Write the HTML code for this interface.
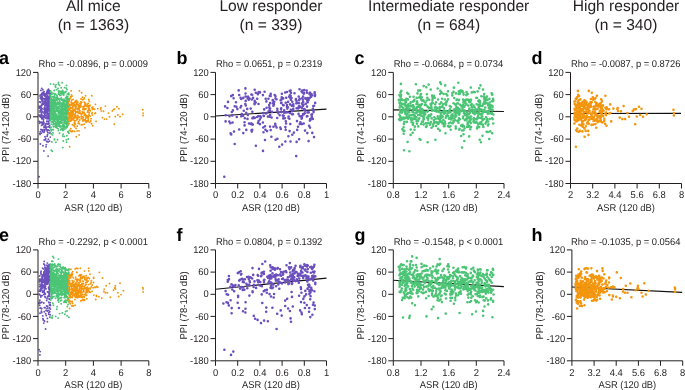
<!DOCTYPE html>
<html><head><meta charset="utf-8"><style>
html,body{margin:0;padding:0;background:#fff;overflow:hidden}
svg{display:block;will-change:transform}
text{font-family:"Liberation Sans",sans-serif;fill:#231f20;text-rendering:geometricPrecision}
.tt{font-size:15.6px;text-anchor:middle}
.rh{font-size:9.4px}
.yl{font-size:9.5px;text-anchor:middle}
.yt{font-size:9.4px;text-anchor:end}
.xt{font-size:9.4px;text-anchor:middle}
.pl{font-size:18px;font-weight:bold;fill:#000}
</style></head><body>
<svg width="685" height="390" viewBox="0 0 685 390">
<defs><filter id="bl" x="-5%" y="-5%" width="110%" height="110%"><feGaussianBlur stdDeviation="0.35"/></filter></defs>
<text x="93.4" y="11.1" class="tt">All mice</text>
<text x="93.4" y="30.0" class="tt">(n = 1363)</text>
<text x="271.0" y="11.1" class="tt">Low responder</text>
<text x="271.0" y="30.0" class="tt">(n = 339)</text>
<text x="448.7" y="11.1" class="tt">Intermediate responder</text>
<text x="448.7" y="30.0" class="tt">(n = 684)</text>
<text x="626.0" y="11.1" class="tt">High responder</text>
<text x="626.0" y="30.0" class="tt">(n = 340)</text>
<text x="-0.9" y="63.8" class="pl">a</text>
<text transform="translate(38.5,67.0) scale(1,1.05)" class="rh">Rho = -0.0896, p = 0.0009</text>
<text transform="translate(9.0,128.0) rotate(-90) scale(1,1.05)" class="yl">PPI (74-120 dB)</text>
<path d="M47.2 131.1h0M49.6 112.5h0M48.6 106.8h0M43.0 102.5h0M43.9 95.1h0M49.4 92.7h0M39.3 121.4h0M49.0 104.8h0M48.8 124.1h0M45.7 110.9h0M44.0 127.5h0M43.7 117.4h0M43.4 92.0h0M45.5 96.2h0M46.1 127.5h0M46.6 110.2h0M50.4 94.9h0M48.7 118.7h0M47.2 118.8h0M50.4 92.3h0M42.9 89.7h0M42.2 99.7h0M47.1 116.5h0M40.3 98.2h0M40.1 115.4h0M46.2 112.1h0M45.7 108.8h0M49.8 127.6h0M47.3 97.5h0M46.2 103.0h0M46.0 115.3h0M43.3 94.2h0M39.5 108.0h0M42.6 111.7h0M47.9 93.2h0M42.7 118.3h0M44.7 105.0h0M39.2 106.4h0M49.1 109.9h0M42.1 96.7h0M43.5 124.1h0M49.5 112.5h0M46.1 129.0h0M49.2 98.4h0M47.4 96.1h0M48.3 126.8h0M41.1 107.5h0M46.4 98.4h0M46.1 100.2h0M49.4 116.4h0M44.6 98.8h0M47.0 112.3h0M40.6 102.3h0M44.9 130.1h0M44.2 140.0h0M42.0 98.4h0M48.9 101.9h0M44.8 126.6h0M50.3 137.1h0M46.9 92.0h0M47.1 101.9h0M47.4 141.5h0M47.7 108.9h0M42.0 96.8h0M45.4 123.9h0M43.2 98.8h0M45.0 111.9h0M41.2 99.0h0M50.2 106.1h0M42.9 100.9h0M47.7 114.3h0M43.9 113.0h0M49.4 99.9h0M47.6 101.7h0M41.7 96.5h0M49.2 110.8h0M50.0 116.8h0M49.7 125.7h0M46.7 127.1h0M42.0 108.9h0M42.6 118.2h0M49.9 95.1h0M46.6 112.8h0M42.4 124.1h0M49.5 98.0h0M47.4 109.7h0M46.7 141.5h0M44.8 116.7h0M45.1 100.4h0M43.2 117.0h0M40.1 122.5h0M49.4 133.1h0M45.7 138.7h0M46.5 115.7h0M44.2 126.3h0M48.4 96.5h0M39.8 123.2h0M44.7 116.3h0M40.0 96.1h0M41.6 122.3h0M50.2 110.7h0M47.5 110.3h0M45.3 102.1h0M46.3 93.7h0M49.4 106.6h0M44.4 113.0h0M46.9 105.1h0M47.8 132.6h0M44.5 116.6h0M46.2 112.0h0M48.5 98.9h0M49.7 94.1h0M42.0 115.0h0M49.9 96.7h0M39.3 115.2h0M48.4 103.1h0M48.9 99.6h0M41.8 112.7h0M45.2 105.8h0M48.9 114.0h0M39.6 101.9h0M47.3 95.3h0M48.7 91.6h0M46.2 109.2h0M48.2 103.1h0M43.0 92.7h0M42.7 97.9h0M44.6 111.2h0M42.4 123.5h0M44.4 131.1h0M50.0 114.4h0M46.8 129.8h0M44.4 107.8h0M43.6 116.4h0M50.1 132.9h0M45.5 125.5h0M50.3 105.8h0M46.2 108.3h0M46.3 97.2h0M49.6 100.0h0M48.3 108.4h0M46.8 97.7h0M45.3 104.4h0M49.5 116.3h0M45.1 103.2h0M49.8 120.1h0M40.7 109.1h0M45.3 101.8h0M46.2 102.7h0M50.1 95.3h0M43.3 116.1h0M48.9 92.5h0M47.7 104.4h0M48.1 103.2h0M47.3 113.0h0M50.2 112.1h0M44.3 113.5h0M45.0 117.5h0M42.7 117.4h0M40.4 144.0h0M42.9 103.4h0M49.8 120.6h0M49.1 113.3h0M41.5 115.8h0M47.0 107.2h0M45.8 113.1h0M47.0 108.6h0M47.6 111.3h0M44.0 132.2h0M50.2 108.9h0M45.7 118.0h0M47.3 91.2h0M47.3 124.0h0M42.5 94.5h0M40.6 106.8h0M45.1 100.0h0M48.5 116.0h0M48.9 96.6h0M48.2 129.9h0M41.5 133.1h0M49.8 98.0h0M48.8 90.6h0M49.5 101.6h0M46.3 98.4h0M49.8 92.8h0M40.3 131.6h0M40.0 134.4h0M39.7 121.6h0M43.4 104.0h0M43.3 123.0h0M42.5 99.5h0M46.7 92.5h0M40.2 95.1h0M46.9 106.9h0M42.2 98.5h0M47.7 106.0h0M39.7 116.2h0M44.0 116.0h0M50.0 94.1h0M46.4 105.1h0M48.9 105.9h0M47.5 114.3h0M47.1 117.9h0M42.6 129.9h0M46.8 112.4h0M40.2 110.4h0M48.8 98.2h0M50.1 118.9h0M49.3 103.8h0M40.4 106.2h0M44.4 101.4h0M44.1 91.7h0M41.5 97.9h0M47.3 90.9h0M48.8 117.9h0M44.1 109.4h0M49.3 99.0h0M48.8 103.6h0M41.7 104.1h0M48.5 124.1h0M49.5 99.4h0M42.7 124.6h0M46.8 102.8h0M47.4 90.5h0M47.1 136.3h0M41.2 116.2h0M47.6 105.3h0M47.3 104.4h0M49.0 123.5h0M48.8 115.8h0M44.2 129.8h0M48.1 101.1h0M49.4 90.6h0M49.6 111.7h0M42.2 123.5h0M39.9 133.4h0M47.5 98.1h0M42.9 104.3h0M46.7 118.2h0M50.0 117.8h0M44.8 103.0h0M43.4 121.2h0M45.6 99.2h0M47.5 105.8h0M41.3 114.1h0M44.8 108.5h0M41.8 105.5h0M47.6 134.7h0M49.1 93.0h0M44.8 95.9h0M44.7 107.7h0M46.4 115.5h0M42.9 117.9h0M43.3 93.5h0M44.3 98.7h0M45.6 127.5h0M41.0 129.5h0M48.4 106.5h0M46.8 123.5h0M43.9 122.5h0M40.9 90.4h0M48.5 89.3h0M41.7 93.5h0M41.8 100.9h0M41.7 88.4h0M41.0 95.0h0M49.7 98.0h0M43.6 92.4h0M44.0 115.7h0M49.1 109.1h0M47.2 96.8h0M42.5 131.6h0M45.4 95.0h0M49.5 102.3h0M44.8 109.7h0M48.0 99.7h0M41.2 106.0h0M48.2 121.1h0M48.6 122.2h0M49.0 114.2h0M47.7 110.6h0M44.7 107.2h0M40.7 117.0h0M46.2 99.6h0M48.4 139.3h0M42.6 94.7h0M43.5 119.5h0M46.4 115.6h0M48.4 107.8h0M49.6 141.1h0M41.7 118.3h0M42.5 123.5h0M48.8 108.2h0M47.4 93.0h0M48.1 103.2h0M50.4 102.9h0M50.0 114.8h0M49.2 130.6h0M48.6 116.4h0M45.0 136.8h0M47.4 99.8h0M42.5 130.4h0M48.5 106.0h0M48.4 100.1h0M48.1 108.3h0M45.5 98.4h0M44.8 110.8h0M45.2 126.8h0M40.0 112.0h0M49.2 109.9h0M46.5 118.4h0M44.9 93.9h0M46.5 105.2h0M48.1 141.9h0M44.8 115.0h0M49.1 90.1h0M49.8 92.8h0M44.9 96.0h0M41.8 129.9h0M48.5 107.6h0M50.4 95.9h0M42.0 118.9h0M48.0 99.0h0M49.0 93.8h0M49.8 119.0h0M41.6 125.4h0M41.1 97.8h0M50.4 93.2h0M41.5 110.8h0M42.4 108.6h0M46.8 121.3h0M45.5 139.8h0M48.4 113.9h0M39.1 176.8h0M43.9 150.9h0M48.1 156.1h0M43.0 145.7h0M46.0 146.8h0M46.3 144.6h0" stroke="#6a4fbd" stroke-width="1.90" stroke-linecap="round" fill="none" filter="url(#bl)"/>
<path d="M66.1 101.0h0M50.2 100.3h0M64.7 104.0h0M62.4 128.9h0M50.4 105.3h0M51.2 124.1h0M63.7 120.1h0M62.5 104.8h0M55.5 114.2h0M66.3 101.9h0M53.6 84.3h0M57.6 102.3h0M51.9 142.0h0M61.9 120.9h0M51.5 118.1h0M53.1 122.7h0M64.3 116.8h0M59.0 123.0h0M62.2 118.2h0M63.7 113.2h0M61.1 122.0h0M53.4 126.7h0M63.0 126.0h0M52.0 105.9h0M54.7 110.3h0M58.0 99.5h0M51.9 99.3h0M51.8 114.7h0M62.0 103.5h0M63.9 126.9h0M56.6 89.6h0M56.9 97.6h0M53.6 113.3h0M59.5 123.8h0M60.6 106.7h0M67.8 131.7h0M50.7 119.6h0M67.3 102.6h0M69.0 110.1h0M56.1 116.4h0M63.5 100.4h0M65.5 122.5h0M62.0 107.8h0M55.0 116.4h0M61.5 120.3h0M66.6 105.8h0M51.8 121.9h0M58.7 92.0h0M50.5 117.4h0M66.0 91.4h0M64.6 123.1h0M50.8 104.2h0M63.9 124.2h0M62.8 147.6h0M52.1 109.1h0M59.5 103.4h0M62.8 125.1h0M55.9 97.8h0M59.1 119.8h0M68.7 109.5h0M61.7 106.7h0M59.1 104.3h0M51.1 130.9h0M52.0 93.7h0M66.1 104.7h0M63.9 115.6h0M65.8 122.3h0M60.6 129.7h0M60.5 126.0h0M59.6 104.9h0M63.7 114.7h0M55.8 123.5h0M59.0 116.8h0M58.5 94.0h0M62.2 114.6h0M53.7 117.4h0M50.5 95.9h0M51.5 105.8h0M53.1 110.4h0M66.2 117.7h0M63.3 128.2h0M64.0 123.9h0M58.0 116.3h0M51.7 113.4h0M58.4 107.0h0M66.3 104.8h0M59.2 108.4h0M61.6 108.5h0M56.6 122.1h0M52.5 134.9h0M61.5 116.7h0M58.7 121.5h0M56.1 118.2h0M54.5 114.0h0M62.9 124.7h0M55.6 123.3h0M60.5 112.0h0M54.5 109.6h0M64.1 118.2h0M56.6 105.4h0M58.6 113.4h0M67.7 122.2h0M63.4 110.5h0M63.7 92.1h0M56.0 118.4h0M65.9 98.0h0M56.8 95.6h0M68.9 94.4h0M67.0 120.1h0M62.2 91.3h0M65.7 109.6h0M59.9 113.7h0M63.7 113.5h0M52.1 104.2h0M68.9 110.3h0M65.0 112.9h0M52.4 96.7h0M54.2 118.9h0M60.5 122.5h0M64.3 102.1h0M52.5 103.1h0M68.3 98.8h0M56.1 122.8h0M69.1 98.9h0M64.1 105.6h0M58.8 92.8h0M56.4 124.8h0M51.6 108.5h0M51.5 114.0h0M61.6 128.6h0M64.5 118.9h0M67.2 98.4h0M56.4 116.1h0M67.9 118.9h0M55.2 101.3h0M67.9 99.9h0M67.5 100.0h0M52.6 119.7h0M66.3 111.6h0M63.1 99.5h0M63.1 118.2h0M65.9 119.2h0M59.8 101.7h0M59.2 94.0h0M56.5 123.7h0M66.4 139.8h0M67.1 127.0h0M52.7 122.2h0M64.5 112.4h0M54.8 104.1h0M53.1 112.5h0M53.4 118.7h0M60.5 109.2h0M54.9 121.6h0M54.2 111.4h0M51.7 118.0h0M55.7 87.2h0M64.5 101.8h0M50.5 120.2h0M58.7 122.0h0M61.1 115.8h0M50.9 129.2h0M55.1 119.0h0M67.2 119.1h0M69.0 101.1h0M66.1 115.7h0M52.9 119.7h0M64.3 125.8h0M58.1 124.0h0M52.9 111.7h0M58.7 113.3h0M67.6 98.3h0M66.6 117.9h0M57.0 99.1h0M51.1 108.1h0M67.1 111.0h0M68.9 133.2h0M59.3 125.2h0M53.9 102.7h0M59.9 95.4h0M62.9 108.6h0M58.7 102.4h0M56.2 115.4h0M54.3 115.0h0M55.2 118.3h0M50.9 100.1h0M54.4 107.1h0M68.2 113.5h0M50.3 114.6h0M63.6 104.7h0M64.8 107.3h0M57.2 120.2h0M60.9 93.1h0M53.8 108.1h0M62.4 110.8h0M63.2 94.6h0M63.7 99.5h0M58.9 111.9h0M68.5 105.0h0M66.4 122.8h0M60.5 118.0h0M62.6 136.0h0M54.8 97.4h0M68.0 132.0h0M61.9 103.3h0M67.0 120.1h0M55.0 121.8h0M68.8 113.1h0M51.8 108.0h0M59.6 104.1h0M51.9 92.8h0M53.2 106.9h0M64.3 101.1h0M51.1 117.6h0M56.8 103.0h0M53.3 109.2h0M66.1 116.1h0M51.4 112.0h0M55.9 111.6h0M66.2 108.8h0M62.7 106.5h0M63.1 116.6h0M69.0 119.1h0M50.5 102.6h0M62.3 129.8h0M63.9 117.8h0M64.0 94.1h0M63.3 141.0h0M51.2 118.6h0M51.4 103.3h0M64.5 129.2h0M61.2 87.7h0M54.5 139.7h0M50.3 95.0h0M59.7 94.1h0M51.5 100.7h0M64.0 113.4h0M56.0 106.9h0M65.2 120.9h0M51.6 101.9h0M58.9 123.4h0M51.7 114.0h0M64.6 99.8h0M60.2 123.3h0M54.0 115.0h0M68.4 109.1h0M62.6 125.8h0M55.9 98.0h0M66.2 107.1h0M56.7 127.8h0M68.0 111.4h0M55.2 119.5h0M68.8 118.2h0M51.1 110.1h0M63.7 118.8h0M55.1 100.2h0M57.6 118.7h0M61.7 100.0h0M50.8 111.4h0M53.8 101.4h0M51.8 116.9h0M63.8 116.5h0M53.8 123.7h0M59.0 104.5h0M55.8 100.5h0M54.1 90.6h0M67.8 96.6h0M59.2 108.1h0M62.0 113.3h0M63.1 106.6h0M65.5 111.2h0M54.6 94.7h0M51.3 100.4h0M58.4 120.2h0M52.9 118.6h0M50.5 95.7h0M67.5 107.5h0M61.5 113.5h0M57.4 97.7h0M52.3 115.2h0M64.2 114.0h0M59.7 116.0h0M53.0 132.7h0M68.8 101.3h0M68.1 124.3h0M67.6 117.2h0M65.6 119.2h0M59.7 102.8h0M55.2 111.7h0M62.0 110.7h0M52.6 129.6h0M61.3 111.9h0M51.1 127.3h0M50.4 107.5h0M63.3 106.8h0M56.0 111.1h0M62.9 91.1h0M64.6 105.1h0M65.8 104.3h0M61.3 109.3h0M66.0 113.1h0M62.2 100.2h0M67.7 98.7h0M67.0 125.4h0M50.8 99.2h0M54.6 105.2h0M56.9 100.2h0M54.4 105.7h0M53.0 124.7h0M66.5 123.9h0M50.5 92.4h0M53.1 108.1h0M64.2 126.7h0M53.8 107.0h0M54.5 114.9h0M68.5 131.4h0M64.3 136.4h0M58.0 128.7h0M52.3 151.2h0M54.7 111.4h0M68.8 113.7h0M64.9 107.8h0M51.2 104.2h0M63.1 134.3h0M56.7 114.3h0M63.4 120.1h0M55.2 124.6h0M52.2 117.0h0M50.4 112.3h0M55.2 113.9h0M66.3 127.1h0M66.9 116.3h0M62.7 91.3h0M64.0 122.6h0M53.3 129.7h0M56.2 107.9h0M67.1 104.3h0M68.9 105.8h0M57.9 123.4h0M64.5 99.8h0M67.8 119.6h0M69.1 123.5h0M55.2 117.7h0M62.1 112.1h0M56.9 103.0h0M58.4 104.0h0M58.3 111.2h0M54.8 100.6h0M50.4 110.0h0M64.4 101.0h0M62.9 126.5h0M65.9 128.4h0M52.6 102.3h0M54.1 126.4h0M60.9 114.3h0M67.8 112.0h0M58.5 116.3h0M53.4 116.0h0M60.9 95.4h0M68.3 139.0h0M66.4 101.1h0M67.1 89.6h0M57.3 110.7h0M54.5 111.1h0M66.5 102.8h0M64.8 92.4h0M66.1 124.1h0M56.9 109.9h0M55.0 113.0h0M54.1 104.7h0M66.5 109.1h0M67.5 103.6h0M56.5 115.6h0M66.6 110.4h0M56.8 118.4h0M58.0 118.3h0M60.3 112.5h0M53.8 112.5h0M54.6 123.9h0M54.6 94.0h0M54.5 112.4h0M59.3 126.3h0M51.7 98.7h0M64.6 119.2h0M53.0 105.3h0M58.0 111.1h0M61.8 108.1h0M52.3 109.0h0M57.3 117.3h0M60.3 110.5h0M60.0 91.2h0M66.9 135.8h0M64.7 110.2h0M52.0 106.1h0M65.7 122.6h0M60.0 126.1h0M62.6 90.4h0M52.7 115.0h0M58.5 90.9h0M63.0 105.0h0M65.0 110.1h0M65.2 105.6h0M53.7 103.9h0M65.7 97.8h0M60.4 106.1h0M62.4 109.3h0M66.1 109.0h0M57.2 95.9h0M67.5 101.8h0M66.7 122.0h0M65.2 118.0h0M56.7 107.2h0M59.6 117.8h0M52.9 115.1h0M64.2 121.5h0M66.9 113.8h0M52.7 106.2h0M63.9 99.9h0M62.9 110.8h0M50.7 90.9h0M67.4 111.8h0M58.6 84.1h0M54.7 99.8h0M50.6 105.4h0M64.7 116.5h0M55.9 142.3h0M59.3 112.6h0M53.3 108.9h0M61.1 91.8h0M57.1 126.2h0M65.2 91.9h0M62.3 113.7h0M63.4 102.9h0M54.3 139.1h0M51.1 109.4h0M66.7 114.7h0M67.8 103.3h0M61.9 109.9h0M67.5 123.6h0M63.1 100.4h0M61.1 103.2h0M57.5 104.3h0M56.3 99.7h0M58.8 98.7h0M53.8 111.2h0M57.6 126.0h0M59.2 126.3h0M50.6 95.9h0M57.0 103.0h0M54.9 109.8h0M61.7 115.7h0M65.3 110.6h0M61.3 110.6h0M62.3 114.7h0M61.3 118.7h0M54.4 90.4h0M56.7 108.4h0M65.9 117.6h0M68.0 125.4h0M53.1 119.0h0M50.3 102.9h0M68.4 102.5h0M66.3 113.3h0M61.2 110.3h0M65.4 114.3h0M60.9 123.2h0M67.2 96.5h0M54.2 106.8h0M58.0 88.5h0M62.4 119.3h0M53.7 112.4h0M63.3 101.1h0M54.5 113.6h0M63.2 126.3h0M65.1 121.5h0M57.6 109.8h0M69.0 107.1h0M61.6 112.0h0M64.1 99.8h0M50.5 99.9h0M51.9 107.3h0M63.2 110.6h0M68.0 113.7h0M61.6 104.8h0M67.4 100.7h0M51.0 110.2h0M66.9 105.9h0M66.6 114.5h0M61.6 126.6h0M57.7 122.0h0M63.1 102.4h0M54.2 105.9h0M62.4 93.9h0M62.9 110.3h0M59.8 101.3h0M54.5 96.2h0M50.2 99.9h0M53.3 117.7h0M65.7 113.0h0M53.6 109.5h0M51.3 121.9h0M54.3 105.6h0M59.4 99.5h0M60.7 116.3h0M66.6 142.3h0M66.2 114.1h0M68.5 113.2h0M66.8 113.6h0M58.1 118.8h0M52.4 106.3h0M68.2 110.7h0M53.9 93.4h0M61.4 104.2h0M54.6 104.9h0M65.4 113.4h0M53.4 126.6h0M57.5 139.8h0M53.8 120.4h0M66.3 100.3h0M61.4 111.3h0M61.6 93.4h0M55.5 102.7h0M53.0 101.6h0M66.2 108.4h0M64.3 108.6h0M63.7 103.7h0M69.1 100.7h0M60.2 118.8h0M53.0 105.4h0M61.2 87.6h0M55.0 111.9h0M59.3 113.8h0M58.3 118.6h0M60.3 127.0h0M67.5 97.7h0M65.2 110.2h0M57.4 107.6h0M65.4 92.3h0M66.3 88.2h0M64.5 120.8h0M60.0 99.2h0M67.1 104.0h0M58.9 106.5h0M51.8 105.6h0M54.7 111.2h0M62.2 93.9h0M56.7 104.1h0M57.5 107.1h0M57.2 97.0h0M53.3 100.9h0M51.6 105.8h0M50.9 107.3h0M62.5 92.8h0M55.7 105.2h0M58.2 111.9h0M67.8 120.4h0M61.5 114.7h0M65.3 122.5h0M64.3 109.7h0M68.2 108.0h0M51.2 133.7h0M56.8 110.7h0M68.1 103.7h0M58.3 109.0h0M68.1 121.5h0M53.2 96.8h0M51.1 118.6h0M67.0 124.5h0M57.3 122.9h0M59.2 111.0h0M67.8 100.0h0M53.8 97.9h0M68.5 108.6h0M57.0 124.2h0M54.3 118.2h0M54.0 120.9h0M59.4 112.9h0M58.4 130.6h0M66.8 109.7h0M50.9 103.7h0M50.8 112.6h0M52.6 105.8h0M61.1 121.3h0M64.7 127.1h0M58.6 118.0h0M61.3 98.0h0M61.9 99.5h0M50.4 116.0h0M54.2 97.5h0M69.1 114.5h0M55.8 94.3h0M68.1 105.5h0M58.9 115.9h0M53.8 102.1h0M50.2 119.5h0M53.7 121.3h0M55.6 127.0h0M57.9 108.0h0M58.0 111.5h0M60.0 111.8h0M58.5 115.5h0M50.6 94.9h0M54.6 115.6h0M68.4 119.0h0M50.6 97.1h0M63.7 95.1h0M58.6 107.1h0M63.1 130.2h0M55.8 117.6h0M56.5 104.1h0M59.4 110.7h0M67.3 94.1h0M55.8 126.1h0M51.5 103.4h0M50.7 117.9h0M66.7 96.2h0M55.5 111.7h0M52.0 99.5h0M60.9 118.1h0M66.0 126.6h0M61.0 123.3h0M52.6 117.7h0M57.2 122.3h0M54.6 97.6h0M50.4 96.0h0M68.4 107.9h0M58.2 122.4h0M52.3 112.2h0M66.8 118.5h0M68.9 94.8h0M65.4 107.4h0M54.4 105.5h0M53.3 115.4h0M59.5 133.3h0M60.7 119.5h0M66.6 123.3h0M68.5 106.8h0M67.3 109.8h0M56.0 119.8h0M60.7 115.2h0M52.1 94.0h0M59.4 121.6h0M51.2 150.2h0M51.9 113.5h0M52.1 118.7h0M55.3 115.7h0M55.4 105.0h0M63.1 93.0h0M51.3 130.7h0M51.9 111.1h0M62.1 110.5h0M62.5 111.8h0M63.2 113.0h0M63.4 114.7h0M62.3 99.8h0M60.1 116.1h0M63.8 112.3h0M51.4 110.9h0M53.6 109.7h0M63.8 112.8h0M53.3 99.8h0M59.6 111.0h0M54.5 109.0h0M57.7 111.5h0M65.7 122.1h0M62.2 120.1h0M58.0 122.6h0M54.7 108.8h0M65.1 118.8h0M62.1 122.7h0M57.9 108.3h0M66.5 105.1h0M62.9 130.5h0M68.8 93.3h0M62.3 110.6h0M67.1 112.1h0M50.6 83.9h0M58.5 82.4h0M62.1 82.8h0M56.1 84.6h0M55.2 86.1h0M59.5 85.4h0M66.5 85.4h0M64.6 87.6h0" stroke="#4cc476" stroke-width="1.90" stroke-linecap="round" fill="none" filter="url(#bl)"/>
<path d="M75.0 124.4h0M77.6 101.9h0M74.2 120.7h0M82.7 116.9h0M86.0 108.7h0M79.4 123.7h0M79.8 106.0h0M75.2 105.6h0M81.5 114.5h0M69.6 120.6h0M85.1 115.5h0M91.6 123.8h0M85.4 103.3h0M71.6 112.0h0M75.1 117.7h0M81.8 118.6h0M77.8 108.3h0M81.7 102.2h0M82.9 121.0h0M71.6 116.7h0M84.3 124.1h0M75.5 107.5h0M73.1 111.2h0M82.4 97.2h0M80.6 113.2h0M92.4 115.1h0M86.8 117.0h0M92.8 107.2h0M75.4 124.2h0M91.9 107.8h0M88.1 110.8h0M72.6 116.2h0M71.8 119.2h0M74.7 104.7h0M82.7 99.8h0M70.1 115.8h0M77.2 108.6h0M69.8 99.1h0M86.1 116.5h0M71.0 114.3h0M83.9 120.6h0M84.4 113.4h0M70.3 113.0h0M75.8 115.4h0M88.4 117.1h0M89.6 122.4h0M87.2 121.1h0M71.4 119.8h0M88.5 108.3h0M72.7 116.2h0M72.6 118.7h0M72.5 107.5h0M83.9 108.6h0M77.9 117.8h0M88.0 116.4h0M83.3 107.9h0M69.9 109.6h0M77.0 118.4h0M79.4 110.7h0M79.8 112.6h0M84.9 105.0h0M88.0 118.0h0M75.6 106.0h0M70.1 109.1h0M91.0 118.7h0M69.0 104.3h0M75.0 105.7h0M78.5 121.7h0M88.8 99.7h0M70.6 121.1h0M77.6 119.0h0M85.2 114.5h0M79.4 107.0h0M89.4 108.7h0M95.5 113.0h0M76.1 102.5h0M84.0 109.7h0M88.2 103.4h0M91.8 95.7h0M79.9 111.0h0M74.6 131.4h0M85.3 115.4h0M84.4 119.6h0M76.0 111.7h0M77.6 111.7h0M85.9 120.5h0M69.7 121.3h0M81.2 114.2h0M68.7 113.9h0M79.0 130.9h0M89.4 106.2h0M84.0 112.2h0M77.9 112.5h0M75.0 110.2h0M76.7 119.9h0M68.8 112.8h0M90.0 105.8h0M68.9 104.0h0M84.9 109.3h0M89.0 114.2h0M70.8 118.7h0M71.2 102.3h0M70.4 108.3h0M72.0 115.6h0M76.1 128.4h0M73.4 119.0h0M74.8 126.8h0M72.1 102.9h0M79.7 111.1h0M73.7 118.0h0M71.3 114.5h0M85.5 95.7h0M79.6 103.7h0M90.9 121.0h0M79.0 113.3h0M88.4 120.5h0M73.7 125.5h0M74.0 111.1h0M71.5 94.9h0M71.7 100.3h0M87.9 112.1h0M84.2 115.0h0M80.0 111.0h0M74.7 104.6h0M86.1 122.3h0M77.2 126.2h0M81.0 99.0h0M88.8 110.6h0M76.1 100.4h0M75.1 110.6h0M75.4 101.3h0M78.3 116.9h0M94.6 109.3h0M76.9 100.9h0M74.7 104.6h0M86.7 115.5h0M71.7 105.4h0M79.4 117.2h0M74.4 123.3h0M77.1 108.5h0M69.3 101.2h0M69.5 105.6h0M85.6 121.0h0M73.8 105.7h0M72.8 107.1h0M70.0 116.1h0M77.1 130.9h0M73.7 104.6h0M87.0 106.4h0M92.5 109.2h0M82.7 124.6h0M78.2 123.4h0M71.0 104.4h0M81.0 106.6h0M72.2 108.5h0M69.6 114.4h0M77.5 109.5h0M74.7 116.5h0M74.5 114.8h0M81.2 118.6h0M90.4 110.7h0M77.8 115.5h0M88.5 106.0h0M80.1 107.2h0M72.5 118.7h0M70.6 97.8h0M85.3 120.2h0M68.8 108.8h0M84.8 104.9h0M95.4 104.4h0M85.0 127.7h0M80.9 105.1h0M87.4 104.1h0M80.7 102.0h0M69.9 130.2h0M78.2 117.4h0M72.2 113.2h0M89.1 115.4h0M77.8 102.4h0M83.3 117.2h0M76.5 103.1h0M72.8 108.0h0M96.1 121.4h0M71.8 120.2h0M75.6 116.0h0M82.3 111.7h0M85.9 105.5h0M94.8 113.5h0M75.4 105.4h0M72.4 124.8h0M79.2 134.9h0M72.6 115.0h0M75.4 108.9h0M71.1 115.3h0M88.3 119.2h0M78.5 109.3h0M88.7 99.4h0M79.1 113.2h0M73.8 118.0h0M85.8 118.3h0M70.7 97.0h0M73.1 112.7h0M92.7 108.5h0M80.8 103.5h0M90.0 105.3h0M82.9 119.0h0M70.5 104.7h0M75.3 105.9h0M94.3 109.3h0M78.0 104.8h0M90.2 116.1h0M79.8 112.9h0M70.9 116.6h0M76.2 106.6h0M77.7 117.3h0M74.2 109.4h0M75.4 120.8h0M82.5 113.3h0M69.0 115.3h0M75.5 113.3h0M79.7 111.4h0M91.9 113.6h0M73.7 114.1h0M92.7 125.7h0M72.4 103.7h0M68.7 117.5h0M85.1 114.1h0M72.7 118.9h0M88.2 105.6h0M68.7 119.7h0M79.2 108.7h0M73.9 103.2h0M89.4 101.4h0M76.7 103.4h0M97.8 108.6h0M87.4 120.6h0M85.0 103.4h0M73.9 103.2h0M78.5 106.2h0M72.8 106.1h0M71.2 111.8h0M81.4 116.1h0M85.8 104.9h0M76.1 102.7h0M79.7 120.0h0M71.7 105.1h0M73.6 110.4h0M74.8 105.5h0M68.9 110.1h0M74.0 103.7h0M71.1 104.2h0M75.1 105.5h0M68.6 123.5h0M83.4 106.5h0M77.2 111.9h0M83.8 120.2h0M79.3 107.1h0M87.9 121.5h0M78.9 105.7h0M69.6 98.7h0M69.4 116.3h0M85.4 105.9h0M88.9 109.3h0M70.2 107.1h0M74.6 122.6h0M75.5 107.6h0M79.5 111.3h0M88.4 107.3h0M70.2 112.2h0M76.5 104.0h0M90.1 110.4h0M88.8 107.7h0M76.2 101.9h0M71.2 110.8h0M77.1 104.8h0M87.8 110.7h0M71.5 108.1h0M69.3 116.4h0M83.0 106.7h0M74.0 102.8h0M70.2 112.8h0M84.1 106.7h0M82.9 109.2h0M74.1 120.6h0M69.8 109.3h0M74.8 102.1h0M69.7 116.0h0M81.4 124.9h0M72.4 110.6h0M76.1 117.0h0M83.9 99.0h0M75.8 112.5h0M87.5 112.2h0M81.2 116.6h0M72.8 110.2h0M70.2 116.6h0M71.6 119.2h0M89.3 112.6h0M71.0 118.5h0M68.6 101.6h0M88.2 119.9h0M92.3 112.6h0M70.4 117.5h0M85.8 121.5h0M73.1 99.4h0M70.8 128.6h0M84.3 102.1h0M100.7 109.1h0M101.0 108.0h0M101.3 110.9h0M103.5 111.3h0M102.5 117.6h0M104.5 119.1h0M106.6 119.1h0M105.4 106.1h0M108.4 113.1h0M109.5 116.8h0M112.4 110.9h0M113.5 109.4h0M114.6 109.1h0M114.2 124.2h0M115.3 116.5h0M116.9 106.8h0M117.9 115.0h0M118.9 108.7h0M120.0 116.8h0M122.8 114.2h0M142.8 109.8h0M143.1 113.1h0M143.1 115.5h0M69.7 146.8h0M70.7 131.3h0M72.8 130.9h0M71.9 131.7h0M76.2 136.8h0M71.2 90.9h0M79.4 90.9h0M81.6 92.8h0M84.4 98.0h0M72.1 96.1h0" stroke="#f3960f" stroke-width="1.90" stroke-linecap="round" fill="none" filter="url(#bl)"/>
<text transform="translate(31.3,75.50) scale(1,1.05)" class="yt">120</text>
<text transform="translate(31.3,97.72) scale(1,1.05)" class="yt">60</text>
<text transform="translate(31.3,119.94) scale(1,1.05)" class="yt">0</text>
<text transform="translate(31.3,142.16) scale(1,1.05)" class="yt">-60</text>
<text transform="translate(31.3,164.38) scale(1,1.05)" class="yt">-120</text>
<text transform="translate(31.3,186.60) scale(1,1.05)" class="yt">-180</text>
<text transform="translate(38.0,198.2) scale(1,1.05)" class="xt">0</text>
<text transform="translate(65.7,198.2) scale(1,1.05)" class="xt">2</text>
<text transform="translate(93.4,198.2) scale(1,1.05)" class="xt">4</text>
<text transform="translate(121.1,198.2) scale(1,1.05)" class="xt">6</text>
<text transform="translate(148.8,198.2) scale(1,1.05)" class="xt">8</text>
<path d="M38.0 72.4V183.5M38.0 183.5H148.8M33.0 72.4H38.0M33.0 94.6H38.0M33.0 116.8H38.0M33.0 139.1H38.0M33.0 161.3H38.0M33.0 183.5H38.0M38.0 183.5V188.5M65.7 183.5V188.5M93.4 183.5V188.5M121.1 183.5V188.5M148.8 183.5V188.5" stroke="#231f20" stroke-width="1" fill="none"/>
<text transform="translate(93.4,210.6) scale(1,1.05)" class="xt">ASR (120 dB)</text>
<text x="176.6" y="63.8" class="pl">b</text>
<text transform="translate(216.0,67.0) scale(1,1.05)" class="rh">Rho = 0.0651, p = 0.2319</text>
<text transform="translate(186.5,128.0) rotate(-90) scale(1,1.05)" class="yl">PPI (74-120 dB)</text>
<line x1="215.5" y1="116.0" x2="326.5" y2="109.1" stroke="#111" stroke-width="1.15"/>
<path d="M289.6 131.1h0M308.7 112.5h0M300.4 106.8h0M255.7 102.5h0M262.9 95.1h0M307.1 92.7h0M225.6 121.4h0M303.5 104.8h0M301.9 124.1h0M277.4 110.9h0M263.2 127.5h0M260.9 117.4h0M258.7 92.0h0M275.5 96.2h0M280.3 127.5h0M284.2 110.2h0M315.1 94.9h0M301.6 118.7h0M289.4 118.8h0M314.7 92.3h0M254.7 89.7h0M248.8 99.7h0M288.6 116.5h0M233.6 98.2h0M232.2 115.4h0M281.2 112.1h0M277.3 108.8h0M310.0 127.6h0M289.9 97.5h0M281.1 103.0h0M279.7 115.3h0M257.9 94.2h0M227.4 108.0h0M252.3 111.7h0M294.5 93.2h0M253.2 118.3h0M269.2 105.0h0M225.1 106.4h0M304.1 109.9h0M248.2 96.7h0M259.9 124.1h0M307.5 112.5h0M280.8 129.0h0M305.3 98.4h0M290.7 96.1h0M298.0 126.8h0M240.5 107.5h0M283.2 98.4h0M280.6 100.2h0M306.9 116.4h0M268.4 98.8h0M287.6 112.3h0M236.0 102.3h0M270.7 130.1h0M265.0 140.0h0M247.7 98.4h0M303.2 101.9h0M270.0 126.6h0M314.0 137.1h0M286.9 92.0h0M288.1 101.9h0M290.5 141.5h0M293.3 108.9h0M247.8 96.8h0M275.2 123.9h0M257.2 98.8h0M272.0 111.9h0M241.2 99.0h0M313.3 106.1h0M254.7 100.9h0M293.0 114.3h0M263.0 113.0h0M307.1 99.9h0M292.3 101.7h0M245.6 96.5h0M305.2 110.8h0M311.8 116.8h0M309.1 125.7h0M285.4 127.1h0M247.2 108.9h0M252.3 118.2h0M310.7 95.1h0M284.1 112.8h0M251.1 124.1h0M307.8 98.0h0M290.8 109.7h0M285.4 141.5h0M269.7 116.7h0M272.7 100.4h0M257.1 117.0h0M232.6 122.5h0M307.3 133.1h0M277.4 138.7h0M283.7 115.7h0M265.0 126.3h0M298.7 96.5h0M230.3 123.2h0M269.4 116.3h0M231.2 96.1h0M244.5 122.3h0M313.3 110.7h0M292.0 110.3h0M274.2 102.1h0M281.9 93.7h0M307.0 106.6h0M266.9 113.0h0M287.0 105.1h0M293.9 132.6h0M267.9 116.6h0M281.5 112.0h0M299.7 98.9h0M309.5 94.1h0M247.8 115.0h0M311.1 96.7h0M225.6 115.2h0M298.8 103.1h0M302.8 99.6h0M246.2 112.7h0M273.4 105.8h0M303.1 114.0h0M228.0 101.9h0M289.8 95.3h0M301.6 91.6h0M281.0 109.2h0M296.9 103.1h0M255.8 92.7h0M253.0 97.9h0M268.6 111.2h0M250.9 123.5h0M267.1 131.1h0M312.0 114.4h0M285.7 129.8h0M266.6 107.8h0M260.3 116.4h0M312.3 132.9h0M275.5 125.5h0M314.1 105.8h0M281.2 108.3h0M281.7 97.2h0M308.6 100.0h0M298.1 108.4h0M286.2 97.7h0M274.0 104.4h0M307.4 116.3h0M272.8 103.2h0M310.4 120.1h0M237.4 109.1h0M274.3 101.8h0M281.5 102.7h0M312.2 95.3h0M258.3 116.1h0M302.5 92.5h0M293.3 104.4h0M296.3 103.2h0M289.9 113.0h0M313.6 112.1h0M265.9 113.5h0M271.6 117.5h0M253.4 117.4h0M234.7 144.0h0M254.5 103.4h0M309.9 120.6h0M304.8 113.3h0M243.2 115.8h0M288.0 107.2h0M278.3 113.1h0M287.3 108.6h0M292.1 111.3h0M263.5 132.2h0M312.9 108.9h0M277.2 118.0h0M289.8 91.2h0M290.3 124.0h0M251.4 94.5h0M236.4 106.8h0M272.8 100.0h0M299.6 116.0h0M303.1 96.6h0M297.2 129.9h0M243.3 133.1h0M309.7 98.0h0M302.2 90.6h0M307.4 101.6h0M281.8 98.4h0M309.9 92.8h0M234.0 131.6h0M231.2 134.4h0M229.3 121.6h0M258.5 104.0h0M258.0 123.0h0M251.8 99.5h0M285.2 92.5h0M232.8 95.1h0M287.0 106.9h0M249.5 98.5h0M293.4 106.0h0M229.5 116.2h0M263.9 116.0h0M311.4 94.1h0M283.0 105.1h0M302.9 105.9h0M292.0 114.3h0M288.5 117.9h0M252.2 129.9h0M285.8 112.4h0M232.9 110.4h0M302.2 98.2h0M312.8 118.9h0M305.8 103.8h0M234.7 106.2h0M266.4 101.4h0M264.6 91.7h0M243.3 97.9h0M289.7 90.9h0M301.9 117.9h0M264.2 109.4h0M306.4 99.0h0M301.9 103.6h0M245.3 104.1h0M299.8 124.1h0M307.7 99.4h0M252.8 124.6h0M285.7 102.8h0M290.6 90.5h0M288.4 136.3h0M241.2 116.2h0M292.2 105.3h0M290.1 104.4h0M303.7 123.5h0M302.3 115.8h0M265.4 129.8h0M296.6 101.1h0M306.7 90.6h0M308.4 111.7h0M249.0 123.5h0M230.6 133.4h0M291.5 98.1h0M254.6 104.3h0M284.9 118.2h0M311.8 117.8h0M270.0 103.0h0M258.5 121.2h0M276.5 99.2h0M291.9 105.8h0M241.8 114.1h0M270.1 108.5h0M245.8 105.5h0M292.3 134.7h0M304.2 93.0h0M269.8 95.9h0M269.4 107.7h0M283.1 115.5h0M254.7 117.9h0M257.9 93.5h0M265.7 98.7h0M276.6 127.5h0M239.2 129.5h0M298.8 106.5h0M286.1 123.5h0M262.9 122.5h0M238.7 90.4h0M299.5 89.3h0M245.5 93.5h0M245.7 100.9h0M245.4 88.4h0M239.2 95.0h0M309.3 98.0h0M260.0 92.4h0M263.5 115.7h0M304.3 109.1h0M289.2 96.8h0M251.8 131.6h0M274.7 95.0h0M307.8 102.3h0M269.7 109.7h0M295.8 99.7h0M241.2 106.0h0M297.0 121.1h0M300.4 122.2h0M303.8 114.2h0M293.2 110.6h0M269.3 107.2h0M236.8 117.0h0M281.5 99.6h0M299.1 139.3h0M252.2 94.7h0M259.8 119.5h0M282.8 115.6h0M298.5 107.8h0M308.6 141.1h0M244.8 118.3h0M251.5 123.5h0M302.0 108.2h0M291.0 93.0h0M296.5 103.2h0M315.2 102.9h0M311.4 114.8h0M305.0 130.6h0M300.5 116.4h0M271.4 136.8h0M290.8 99.8h0M251.5 130.4h0M299.3 106.0h0M299.1 100.1h0M296.6 108.3h0M275.5 98.4h0M269.9 110.8h0M273.4 126.8h0M231.8 112.0h0M305.1 109.9h0M283.3 118.4h0M270.7 93.9h0M283.7 105.2h0M296.6 141.9h0M270.2 115.0h0M304.2 90.1h0M310.1 92.8h0M270.7 96.0h0M246.3 129.9h0M299.3 107.6h0M314.9 95.9h0M247.5 118.9h0M296.0 99.0h0M303.8 93.8h0M310.2 119.0h0M244.6 125.4h0M240.6 97.8h0M314.6 93.2h0M243.8 110.8h0M250.7 108.6h0M285.8 121.3h0M275.6 139.8h0M298.6 113.9h0M224.3 176.8h0M263.0 150.9h0M296.2 156.1h0M255.9 145.7h0M279.3 146.8h0M282.1 144.6h0" stroke="#6a4fbd" stroke-width="2.60" stroke-linecap="round" fill="none" filter="url(#bl)"/>
<text transform="translate(208.8,75.50) scale(1,1.05)" class="yt">120</text>
<text transform="translate(208.8,97.72) scale(1,1.05)" class="yt">60</text>
<text transform="translate(208.8,119.94) scale(1,1.05)" class="yt">0</text>
<text transform="translate(208.8,142.16) scale(1,1.05)" class="yt">-60</text>
<text transform="translate(208.8,164.38) scale(1,1.05)" class="yt">-120</text>
<text transform="translate(208.8,186.60) scale(1,1.05)" class="yt">-180</text>
<text transform="translate(215.5,198.2) scale(1,1.05)" class="xt">0</text>
<text transform="translate(237.7,198.2) scale(1,1.05)" class="xt">0.2</text>
<text transform="translate(259.9,198.2) scale(1,1.05)" class="xt">0.4</text>
<text transform="translate(282.1,198.2) scale(1,1.05)" class="xt">0.6</text>
<text transform="translate(304.3,198.2) scale(1,1.05)" class="xt">0.8</text>
<text transform="translate(326.5,198.2) scale(1,1.05)" class="xt">1</text>
<path d="M215.5 72.4V183.5M215.5 183.5H326.5M210.5 72.4H215.5M210.5 94.6H215.5M210.5 116.8H215.5M210.5 139.1H215.5M210.5 161.3H215.5M210.5 183.5H215.5M215.5 183.5V188.5M237.7 183.5V188.5M259.9 183.5V188.5M282.1 183.5V188.5M304.3 183.5V188.5M326.5 183.5V188.5" stroke="#231f20" stroke-width="1" fill="none"/>
<text transform="translate(271.0,210.6) scale(1,1.05)" class="xt">ASR (120 dB)</text>
<text x="354.4" y="63.8" class="pl">c</text>
<text transform="translate(393.8,67.0) scale(1,1.05)" class="rh">Rho = -0.0684, p = 0.0734</text>
<text transform="translate(364.3,128.0) rotate(-90) scale(1,1.05)" class="yl">PPI (74-120 dB)</text>
<line x1="393.3" y1="109.9" x2="503.9" y2="111.5" stroke="#111" stroke-width="1.15"/>
<path d="M478.3 101.0h0M399.0 100.3h0M471.6 104.0h0M459.6 128.9h0M400.0 105.3h0M403.9 124.1h0M466.4 120.1h0M460.2 104.8h0M425.3 114.2h0M479.3 101.9h0M415.9 84.3h0M436.0 102.3h0M407.6 142.0h0M457.4 120.9h0M405.3 118.1h0M413.2 122.7h0M469.6 116.8h0M443.1 123.0h0M459.0 118.2h0M466.3 113.2h0M453.5 122.0h0M414.8 126.7h0M462.7 126.0h0M407.7 105.9h0M421.3 110.3h0M438.0 99.5h0M407.6 99.3h0M406.9 114.7h0M458.1 103.5h0M467.1 126.9h0M430.7 89.6h0M432.5 97.6h0M415.7 113.3h0M445.2 123.8h0M450.9 106.7h0M486.7 131.7h0M401.6 119.6h0M484.1 102.6h0M492.6 110.1h0M428.4 116.4h0M465.5 100.4h0M475.5 122.5h0M458.0 107.8h0M423.0 116.4h0M455.1 120.3h0M480.9 105.8h0M406.9 121.9h0M441.1 92.0h0M400.3 117.4h0M477.6 91.4h0M470.8 123.1h0M402.0 104.2h0M467.5 124.2h0M462.0 147.6h0M408.6 109.1h0M445.5 103.4h0M461.8 125.1h0M427.3 97.8h0M443.4 119.8h0M491.1 109.5h0M456.4 106.7h0M443.2 104.3h0M403.6 130.9h0M408.1 93.7h0M478.2 104.7h0M467.2 115.6h0M476.6 122.3h0M450.7 129.7h0M450.5 126.0h0M446.0 104.9h0M466.4 114.7h0M426.9 123.5h0M442.7 116.8h0M440.1 94.0h0M459.0 114.6h0M416.4 117.4h0M400.5 95.9h0M405.4 105.8h0M413.1 110.4h0M478.8 117.7h0M464.6 128.2h0M467.9 123.9h0M437.7 116.3h0M406.6 113.4h0M439.7 107.0h0M479.4 104.8h0M443.9 108.4h0M456.0 108.5h0M431.0 122.1h0M410.6 134.9h0M455.5 116.7h0M441.6 121.5h0M428.3 118.2h0M420.2 114.0h0M462.5 124.7h0M425.7 123.3h0M450.5 112.0h0M420.4 109.6h0M468.3 118.2h0M431.1 105.4h0M441.0 113.4h0M486.1 122.2h0M464.7 110.5h0M466.5 92.1h0M427.7 118.4h0M477.1 98.0h0M432.1 95.6h0M492.4 94.4h0M482.8 120.1h0M458.8 91.3h0M476.2 109.6h0M447.4 113.7h0M466.2 113.5h0M408.4 104.2h0M492.4 110.3h0M473.0 112.9h0M409.9 96.7h0M418.8 118.9h0M450.4 122.5h0M469.2 102.1h0M410.5 103.1h0M489.5 98.8h0M428.3 122.8h0M493.1 98.9h0M468.2 105.6h0M441.6 92.8h0M429.9 124.8h0M406.1 108.5h0M405.4 114.0h0M455.8 128.6h0M470.3 118.9h0M484.0 98.4h0M430.1 116.1h0M487.1 118.9h0M423.8 101.3h0M487.4 99.9h0M485.2 100.0h0M411.0 119.7h0M479.2 111.6h0M463.2 99.5h0M463.1 118.2h0M477.1 119.2h0M446.6 101.7h0M443.7 94.0h0M430.3 123.7h0M479.7 139.8h0M483.4 127.0h0M411.5 122.2h0M470.2 112.4h0M421.8 104.1h0M413.5 112.5h0M414.7 118.7h0M450.2 109.2h0M422.2 121.6h0M418.8 111.4h0M406.2 118.0h0M426.3 87.2h0M470.4 101.8h0M400.2 120.2h0M441.4 122.0h0M453.2 115.8h0M402.3 129.2h0M423.5 119.0h0M483.9 119.1h0M493.0 101.1h0M478.1 115.7h0M412.3 119.7h0M469.3 125.8h0M438.3 124.0h0M412.4 111.7h0M441.2 113.3h0M485.6 98.3h0M480.9 117.9h0M432.6 99.1h0M403.4 108.1h0M483.3 111.0h0M492.2 133.2h0M444.2 125.2h0M417.2 102.7h0M447.3 95.4h0M462.5 108.6h0M441.3 102.4h0M428.9 115.4h0M419.3 115.0h0M423.8 118.3h0M402.3 100.1h0M419.9 107.1h0M488.7 113.5h0M399.3 114.6h0M465.6 104.7h0M471.9 107.3h0M433.9 120.2h0M452.4 93.1h0M416.8 108.1h0M459.7 110.8h0M463.6 94.6h0M466.3 99.5h0M442.3 111.9h0M490.5 105.0h0M479.8 122.8h0M450.2 118.0h0M461.1 136.0h0M421.7 97.4h0M487.8 132.0h0M457.4 103.3h0M482.7 120.1h0M423.0 121.8h0M491.8 113.1h0M406.8 108.0h0M446.0 104.1h0M407.2 92.8h0M414.1 106.9h0M469.3 101.1h0M403.6 117.6h0M431.8 103.0h0M414.2 109.2h0M478.1 116.1h0M404.9 112.0h0M427.4 111.6h0M478.7 108.8h0M461.5 106.5h0M463.2 116.6h0M492.7 119.1h0M400.4 102.6h0M459.3 129.8h0M467.4 117.8h0M467.7 94.1h0M464.3 141.0h0M404.1 118.6h0M405.0 103.3h0M470.2 129.2h0M454.0 87.7h0M420.6 139.7h0M399.4 95.0h0M446.3 94.1h0M405.6 100.7h0M467.7 113.4h0M427.8 106.9h0M473.8 120.9h0M406.0 101.9h0M442.5 123.4h0M406.3 114.0h0M471.0 99.8h0M448.9 123.3h0M418.1 115.0h0M489.8 109.1h0M461.1 125.8h0M427.4 98.0h0M478.7 107.1h0M431.5 127.8h0M487.6 111.4h0M423.8 119.5h0M492.0 118.2h0M403.3 110.1h0M466.3 118.8h0M423.3 100.2h0M435.7 118.7h0M456.5 100.0h0M402.0 111.4h0M417.1 101.4h0M406.7 116.9h0M466.9 116.5h0M416.9 123.7h0M442.9 104.5h0M426.7 100.5h0M418.2 90.6h0M486.9 96.6h0M443.8 108.1h0M457.9 113.3h0M463.3 106.6h0M475.2 111.2h0M420.7 94.7h0M404.6 100.4h0M439.9 120.2h0M412.3 118.6h0M400.1 95.7h0M485.3 107.5h0M455.5 113.5h0M434.8 97.7h0M409.4 115.2h0M469.0 114.0h0M446.3 116.0h0M412.7 132.7h0M491.8 101.3h0M488.5 124.3h0M486.1 117.2h0M475.7 119.2h0M446.1 102.8h0M424.1 111.7h0M458.0 110.7h0M410.7 129.6h0M454.5 111.9h0M403.6 127.3h0M399.7 107.5h0M464.4 106.8h0M428.0 111.1h0M462.6 91.1h0M470.9 105.1h0M476.6 104.3h0M454.4 109.3h0M477.8 113.1h0M458.7 100.2h0M486.1 98.7h0M482.9 125.4h0M401.8 99.2h0M421.1 105.2h0M432.4 100.2h0M419.7 105.7h0M412.9 124.7h0M480.5 123.9h0M400.5 92.4h0M413.4 108.1h0M468.9 126.7h0M417.1 107.0h0M420.2 114.9h0M490.2 131.4h0M469.2 136.4h0M438.1 128.7h0M409.4 151.2h0M421.2 111.4h0M491.7 113.7h0M472.1 107.8h0M403.9 104.2h0M463.5 134.3h0M431.2 114.3h0M464.9 120.1h0M423.6 124.6h0M408.9 117.0h0M400.1 112.3h0M423.6 113.9h0M479.2 127.1h0M482.3 116.3h0M461.2 91.3h0M467.7 122.6h0M414.5 129.7h0M429.1 107.9h0M483.2 104.3h0M492.2 105.8h0M437.5 123.4h0M470.5 99.8h0M486.7 119.6h0M493.3 123.5h0M423.7 117.7h0M458.3 112.1h0M432.5 103.0h0M439.7 104.0h0M439.4 111.2h0M422.1 100.6h0M400.1 110.0h0M469.6 101.0h0M462.5 126.5h0M477.1 128.4h0M410.9 102.3h0M418.3 126.4h0M452.5 114.3h0M487.0 112.0h0M440.3 116.3h0M415.0 116.0h0M452.3 95.4h0M489.2 139.0h0M480.0 101.1h0M483.1 89.6h0M434.4 110.7h0M420.6 111.1h0M480.2 102.8h0M471.8 92.4h0M478.2 124.1h0M432.6 109.9h0M422.8 113.0h0M418.6 104.7h0M480.2 109.1h0M485.3 103.6h0M430.3 115.6h0M480.6 110.4h0M431.7 118.4h0M438.0 118.3h0M449.6 112.5h0M416.9 112.5h0M421.1 123.9h0M421.0 94.0h0M420.4 112.4h0M444.6 126.3h0M406.4 98.7h0M471.0 119.2h0M412.8 105.3h0M437.6 111.1h0M457.0 108.1h0M409.6 109.0h0M434.3 117.3h0M449.2 110.5h0M448.0 91.2h0M482.5 135.8h0M471.5 110.2h0M408.1 106.1h0M476.4 122.6h0M447.9 126.1h0M460.7 90.4h0M411.5 115.0h0M440.3 90.9h0M462.9 105.0h0M472.7 110.1h0M473.6 105.6h0M416.5 103.9h0M476.3 97.8h0M449.8 106.1h0M459.7 109.3h0M478.3 109.0h0M434.0 95.9h0M485.3 101.8h0M481.3 122.0h0M473.8 118.0h0M431.5 107.2h0M445.8 117.8h0M412.6 115.1h0M468.9 121.5h0M482.3 113.8h0M411.5 106.2h0M467.4 99.9h0M462.3 110.8h0M401.3 90.9h0M485.0 111.8h0M441.0 84.1h0M421.2 99.8h0M400.9 105.4h0M471.1 116.5h0M427.6 142.3h0M444.4 112.6h0M414.5 108.9h0M453.6 91.8h0M433.2 126.2h0M473.7 91.9h0M459.5 113.7h0M465.1 102.9h0M419.6 139.1h0M403.4 109.4h0M481.2 114.7h0M486.9 103.3h0M457.2 109.9h0M485.5 123.6h0M463.5 100.4h0M453.5 103.2h0M435.2 104.3h0M429.2 99.7h0M442.1 98.7h0M417.0 111.2h0M436.1 126.0h0M443.8 126.3h0M400.9 95.9h0M432.8 103.0h0M422.6 109.8h0M456.3 115.7h0M474.2 110.6h0M454.3 110.6h0M459.2 114.7h0M454.3 118.7h0M420.0 90.4h0M431.2 108.4h0M477.5 117.6h0M488.0 125.4h0M413.3 119.0h0M399.5 102.9h0M489.6 102.5h0M479.1 113.3h0M453.6 110.3h0M474.7 114.3h0M452.3 123.2h0M483.7 96.5h0M418.9 106.8h0M437.7 88.5h0M459.9 119.3h0M416.4 112.4h0M464.4 101.1h0M420.6 113.6h0M463.9 126.3h0M473.4 121.5h0M435.7 109.8h0M492.6 107.1h0M456.0 112.0h0M468.6 99.8h0M400.2 99.9h0M407.4 107.3h0M464.0 110.6h0M487.7 113.7h0M455.7 104.8h0M484.6 100.7h0M403.1 110.2h0M482.4 105.9h0M480.9 114.5h0M455.7 126.6h0M436.2 122.0h0M463.4 102.4h0M418.9 105.9h0M459.6 93.9h0M462.3 110.3h0M447.0 101.3h0M420.4 96.2h0M398.9 99.9h0M414.6 117.7h0M476.4 113.0h0M416.1 109.5h0M404.3 121.9h0M419.2 105.6h0M444.9 99.5h0M451.5 116.3h0M480.9 142.3h0M478.6 114.1h0M490.4 113.2h0M481.6 113.6h0M438.2 118.8h0M409.9 106.3h0M489.0 110.7h0M417.5 93.4h0M455.1 104.2h0M420.8 104.9h0M474.7 113.4h0M415.0 126.6h0M435.4 139.8h0M416.7 120.4h0M479.2 100.3h0M454.8 111.3h0M455.9 93.4h0M425.4 102.7h0M412.9 101.6h0M478.9 108.4h0M469.4 108.6h0M466.3 103.7h0M493.3 100.7h0M448.9 118.8h0M413.1 105.4h0M453.8 87.6h0M422.9 111.9h0M444.3 113.8h0M439.1 118.6h0M449.3 127.0h0M485.5 97.7h0M474.0 110.2h0M434.9 107.6h0M474.8 92.3h0M479.2 88.2h0M470.3 120.8h0M448.1 99.2h0M483.2 104.0h0M442.3 106.5h0M406.9 105.6h0M421.5 111.2h0M458.6 93.9h0M431.4 104.1h0M435.6 107.1h0M433.6 97.0h0M414.3 100.9h0M405.8 105.8h0M402.3 107.3h0M460.1 92.8h0M426.3 105.2h0M438.9 111.9h0M486.9 120.4h0M455.5 114.7h0M474.1 122.5h0M469.2 109.7h0M488.8 108.0h0M403.7 133.7h0M431.9 110.7h0M488.4 103.7h0M439.6 109.0h0M488.2 121.5h0M413.6 96.8h0M403.1 118.6h0M482.8 124.5h0M434.5 122.9h0M443.9 111.0h0M487.0 100.0h0M416.7 97.9h0M490.3 108.6h0M433.1 124.2h0M419.2 118.2h0M418.0 120.9h0M444.9 112.9h0M439.9 130.6h0M481.8 109.7h0M402.4 103.7h0M401.9 112.6h0M410.8 105.8h0M453.4 121.3h0M471.1 127.1h0M441.1 118.0h0M454.2 98.0h0M457.1 99.5h0M400.1 116.0h0M419.1 97.5h0M493.4 114.5h0M426.9 94.3h0M488.1 105.5h0M442.3 115.9h0M417.0 102.1h0M399.0 119.5h0M416.5 121.3h0M426.0 127.0h0M437.2 108.0h0M437.9 111.5h0M447.8 111.8h0M440.5 115.5h0M401.0 94.9h0M421.0 115.6h0M489.7 119.0h0M400.6 97.1h0M466.3 95.1h0M440.8 107.1h0M463.6 130.2h0M427.1 117.6h0M430.6 104.1h0M444.7 110.7h0M484.2 94.1h0M426.7 126.1h0M405.2 103.4h0M401.5 117.9h0M481.3 96.2h0M425.3 111.7h0M408.0 99.5h0M452.5 118.1h0M477.6 126.6h0M452.8 123.3h0M410.7 117.7h0M434.0 122.3h0M421.0 97.6h0M399.9 96.0h0M490.1 107.9h0M439.1 122.4h0M409.3 112.2h0M481.7 118.5h0M492.1 94.8h0M474.6 107.4h0M419.8 105.5h0M414.1 115.4h0M445.5 133.3h0M451.2 119.5h0M481.0 123.3h0M490.2 106.8h0M484.3 109.8h0M428.0 119.8h0M451.4 115.2h0M408.4 94.0h0M444.9 121.6h0M404.0 150.2h0M407.3 113.5h0M408.2 118.7h0M424.2 115.7h0M424.9 105.0h0M463.4 93.0h0M404.4 130.7h0M407.3 111.1h0M458.5 110.5h0M460.1 111.8h0M463.9 113.0h0M464.9 114.7h0M459.1 99.8h0M448.2 116.1h0M467.0 112.3h0M404.8 110.9h0M416.0 109.7h0M467.0 112.8h0M414.3 99.8h0M446.1 111.0h0M420.4 109.0h0M436.4 111.5h0M476.5 122.1h0M458.9 120.1h0M437.8 122.6h0M421.6 108.8h0M473.5 118.8h0M458.6 122.7h0M437.2 108.3h0M480.1 105.1h0M462.1 130.5h0M491.6 93.3h0M459.3 110.6h0M483.2 112.1h0M400.9 83.9h0M440.3 82.4h0M458.3 82.8h0M428.6 84.6h0M423.7 86.1h0M445.2 85.4h0M480.5 85.4h0M470.8 87.6h0" stroke="#4cc476" stroke-width="2.60" stroke-linecap="round" fill="none" filter="url(#bl)"/>
<text transform="translate(386.6,75.50) scale(1,1.05)" class="yt">120</text>
<text transform="translate(386.6,97.72) scale(1,1.05)" class="yt">60</text>
<text transform="translate(386.6,119.94) scale(1,1.05)" class="yt">0</text>
<text transform="translate(386.6,142.16) scale(1,1.05)" class="yt">-60</text>
<text transform="translate(386.6,164.38) scale(1,1.05)" class="yt">-120</text>
<text transform="translate(386.6,186.60) scale(1,1.05)" class="yt">-180</text>
<text transform="translate(393.3,198.2) scale(1,1.05)" class="xt">0.8</text>
<text transform="translate(421.0,198.2) scale(1,1.05)" class="xt">1.2</text>
<text transform="translate(448.7,198.2) scale(1,1.05)" class="xt">1.6</text>
<text transform="translate(476.3,198.2) scale(1,1.05)" class="xt">2</text>
<text transform="translate(504.0,198.2) scale(1,1.05)" class="xt">2.4</text>
<path d="M393.3 72.4V183.5M393.3 183.5H504.0M388.3 72.4H393.3M388.3 94.6H393.3M388.3 116.8H393.3M388.3 139.1H393.3M388.3 161.3H393.3M388.3 183.5H393.3M393.3 183.5V188.5M421.0 183.5V188.5M448.7 183.5V188.5M476.3 183.5V188.5M504.0 183.5V188.5" stroke="#231f20" stroke-width="1" fill="none"/>
<text transform="translate(448.6,210.6) scale(1,1.05)" class="xt">ASR (120 dB)</text>
<text x="531.6" y="63.8" class="pl">d</text>
<text transform="translate(571.0,67.0) scale(1,1.05)" class="rh">Rho = -0.0087, p = 0.8726</text>
<text transform="translate(541.5,128.0) rotate(-90) scale(1,1.05)" class="yl">PPI (74-120 dB)</text>
<line x1="570.5" y1="113.5" x2="681.0" y2="113.3" stroke="#111" stroke-width="1.15"/>
<path d="M583.0 124.4h0M586.4 101.9h0M581.8 120.7h0M593.2 116.9h0M597.6 108.7h0M588.8 123.7h0M589.3 106.0h0M583.2 105.6h0M591.6 114.5h0M575.8 120.6h0M596.4 115.5h0M605.1 123.8h0M596.8 103.3h0M578.4 112.0h0M583.0 117.7h0M592.0 118.6h0M586.7 108.3h0M591.8 102.2h0M593.5 121.0h0M578.4 116.7h0M595.4 124.1h0M583.6 107.5h0M580.4 111.2h0M592.8 97.2h0M590.4 113.2h0M606.1 115.1h0M598.7 117.0h0M606.7 107.2h0M583.5 124.2h0M605.4 107.8h0M600.4 110.8h0M579.7 116.2h0M578.7 119.2h0M582.5 104.7h0M593.2 99.8h0M576.4 115.8h0M585.8 108.6h0M575.9 99.1h0M597.8 116.5h0M577.5 114.3h0M594.8 120.6h0M595.5 113.4h0M576.7 113.0h0M584.0 115.4h0M600.8 117.1h0M602.4 122.4h0M599.2 121.1h0M578.2 119.8h0M601.0 108.3h0M579.8 116.2h0M579.8 118.7h0M579.5 107.5h0M594.9 108.6h0M586.8 117.8h0M600.3 116.4h0M594.0 107.9h0M576.1 109.6h0M585.6 118.4h0M588.8 110.7h0M589.3 112.6h0M596.1 105.0h0M600.2 118.0h0M583.8 106.0h0M576.3 109.1h0M604.3 118.7h0M574.9 104.3h0M582.9 105.7h0M587.6 121.7h0M601.4 99.7h0M577.1 121.1h0M586.4 119.0h0M596.6 114.5h0M588.7 107.0h0M602.2 108.7h0M610.3 113.0h0M584.4 102.5h0M595.0 109.7h0M600.6 103.4h0M605.4 95.7h0M589.4 111.0h0M582.4 131.4h0M596.7 115.4h0M595.5 119.6h0M584.2 111.7h0M586.4 111.7h0M597.4 120.5h0M575.8 121.3h0M591.2 114.2h0M574.6 113.9h0M588.2 130.9h0M602.2 106.2h0M595.0 112.2h0M586.8 112.5h0M582.9 110.2h0M585.2 119.9h0M574.6 112.8h0M602.9 105.8h0M574.7 104.0h0M596.2 109.3h0M601.6 114.2h0M577.4 118.7h0M577.9 102.3h0M576.7 108.3h0M578.9 115.6h0M584.4 128.4h0M580.8 119.0h0M582.7 126.8h0M579.0 102.9h0M589.2 111.1h0M581.2 118.0h0M577.9 114.5h0M596.9 95.7h0M589.1 103.7h0M604.2 121.0h0M588.3 113.3h0M600.8 120.5h0M581.1 125.5h0M581.5 111.1h0M578.2 94.9h0M578.5 100.3h0M600.2 112.1h0M595.3 115.0h0M589.6 111.0h0M582.6 104.6h0M597.7 122.3h0M585.9 126.2h0M590.9 99.0h0M601.4 110.6h0M584.5 100.4h0M583.1 110.6h0M583.5 101.3h0M587.3 116.9h0M609.1 109.3h0M585.4 100.9h0M582.5 104.6h0M598.5 115.5h0M578.5 105.4h0M588.9 117.2h0M582.1 123.3h0M585.7 108.5h0M575.3 101.2h0M575.5 105.6h0M597.1 121.0h0M581.3 105.7h0M580.0 107.1h0M576.2 116.1h0M585.7 130.9h0M581.2 104.6h0M599.0 106.4h0M606.4 109.2h0M593.2 124.6h0M587.2 123.4h0M577.6 104.4h0M591.0 106.6h0M579.2 108.5h0M575.7 114.4h0M586.2 109.5h0M582.5 116.5h0M582.3 114.8h0M591.1 118.6h0M603.6 110.7h0M586.7 115.5h0M601.0 106.0h0M589.7 107.2h0M579.5 118.7h0M577.1 97.8h0M596.7 120.2h0M574.6 108.8h0M596.0 104.9h0M610.2 104.4h0M596.3 127.7h0M590.7 105.1h0M599.4 104.1h0M590.6 102.0h0M576.1 130.2h0M587.2 117.4h0M579.2 113.2h0M601.7 115.4h0M586.6 102.4h0M593.9 117.2h0M585.0 103.1h0M579.9 108.0h0M611.2 121.4h0M578.6 120.2h0M583.7 116.0h0M592.7 111.7h0M597.5 105.5h0M609.3 113.5h0M583.5 105.4h0M579.4 124.8h0M588.5 134.9h0M579.7 115.0h0M583.4 108.9h0M577.8 115.3h0M600.6 119.2h0M587.6 109.3h0M601.2 99.4h0M588.4 113.2h0M581.4 118.0h0M597.3 118.3h0M577.2 97.0h0M580.3 112.7h0M606.5 108.5h0M590.7 103.5h0M603.0 105.3h0M593.5 119.0h0M576.9 104.7h0M583.3 105.9h0M608.7 109.3h0M586.9 104.8h0M603.2 116.1h0M589.3 112.9h0M577.5 116.6h0M584.6 106.6h0M586.5 117.3h0M581.9 109.4h0M583.4 120.8h0M592.9 113.3h0M574.9 115.3h0M583.5 113.3h0M589.2 111.4h0M605.4 113.6h0M581.2 114.1h0M606.5 125.7h0M579.5 103.7h0M574.4 117.5h0M596.3 114.1h0M579.8 118.9h0M600.6 105.6h0M574.5 119.7h0M588.6 108.7h0M581.4 103.2h0M602.1 101.4h0M585.2 103.4h0M613.4 108.6h0M599.5 120.6h0M596.2 103.4h0M581.5 103.2h0M587.6 106.2h0M580.0 106.1h0M577.9 111.8h0M591.5 116.1h0M597.3 104.9h0M584.4 102.7h0M589.1 120.0h0M578.5 105.1h0M581.0 110.4h0M582.6 105.5h0M574.8 110.1h0M581.6 103.7h0M577.7 104.2h0M583.1 105.5h0M574.4 123.5h0M594.1 106.5h0M585.8 111.9h0M594.7 120.2h0M588.6 107.1h0M600.2 121.5h0M588.1 105.7h0M575.7 98.7h0M575.5 116.3h0M596.9 105.9h0M601.5 109.3h0M576.5 107.1h0M582.4 122.6h0M583.6 107.6h0M588.9 111.3h0M600.9 107.3h0M576.5 112.2h0M584.9 104.0h0M603.1 110.4h0M601.4 107.7h0M584.6 101.9h0M577.9 110.8h0M585.7 104.8h0M600.0 110.7h0M578.2 108.1h0M575.3 116.4h0M593.6 106.7h0M581.6 102.8h0M576.6 112.8h0M595.0 106.7h0M593.4 109.2h0M581.7 120.6h0M575.9 109.3h0M582.6 102.1h0M575.8 116.0h0M591.5 124.9h0M579.4 110.6h0M584.3 117.0h0M594.8 99.0h0M584.0 112.5h0M599.6 112.2h0M591.3 116.6h0M580.0 110.2h0M576.5 116.6h0M578.4 119.2h0M602.1 112.6h0M577.6 118.5h0M574.4 101.6h0M600.6 119.9h0M606.1 112.6h0M576.8 117.5h0M597.4 121.5h0M580.4 99.4h0M577.3 128.6h0M595.3 102.1h0M617.3 109.1h0M617.7 108.0h0M618.0 110.9h0M621.0 111.3h0M619.7 117.6h0M622.3 119.1h0M625.1 119.1h0M623.6 106.1h0M627.5 113.1h0M629.0 116.8h0M632.8 110.9h0M634.3 109.4h0M635.8 109.1h0M635.2 124.2h0M636.7 116.5h0M639.0 106.8h0M640.2 115.0h0M641.5 108.7h0M643.0 116.8h0M646.7 114.2h0M673.5 109.8h0M673.9 113.1h0M673.9 115.5h0M575.9 146.8h0M577.2 131.3h0M579.9 130.9h0M578.8 131.7h0M584.6 136.8h0M577.9 90.9h0M588.8 90.9h0M591.8 92.8h0M595.5 98.0h0M579.0 96.1h0" stroke="#f3960f" stroke-width="2.60" stroke-linecap="round" fill="none" filter="url(#bl)"/>
<text transform="translate(563.8,75.50) scale(1,1.05)" class="yt">120</text>
<text transform="translate(563.8,97.72) scale(1,1.05)" class="yt">60</text>
<text transform="translate(563.8,119.94) scale(1,1.05)" class="yt">0</text>
<text transform="translate(563.8,142.16) scale(1,1.05)" class="yt">-60</text>
<text transform="translate(563.8,164.38) scale(1,1.05)" class="yt">-120</text>
<text transform="translate(563.8,186.60) scale(1,1.05)" class="yt">-180</text>
<text transform="translate(570.5,198.2) scale(1,1.05)" class="xt">2</text>
<text transform="translate(592.7,198.2) scale(1,1.05)" class="xt">3.2</text>
<text transform="translate(614.9,198.2) scale(1,1.05)" class="xt">4.4</text>
<text transform="translate(637.1,198.2) scale(1,1.05)" class="xt">5.6</text>
<text transform="translate(659.3,198.2) scale(1,1.05)" class="xt">6.8</text>
<text transform="translate(681.5,198.2) scale(1,1.05)" class="xt">8</text>
<path d="M570.5 72.4V183.5M570.5 183.5H681.5M565.5 72.4H570.5M565.5 94.6H570.5M565.5 116.8H570.5M565.5 139.1H570.5M565.5 161.3H570.5M565.5 183.5H570.5M570.5 183.5V188.5M592.7 183.5V188.5M614.9 183.5V188.5M637.1 183.5V188.5M659.3 183.5V188.5M681.5 183.5V188.5" stroke="#231f20" stroke-width="1" fill="none"/>
<text transform="translate(626.0,210.6) scale(1,1.05)" class="xt">ASR (120 dB)</text>
<text x="-0.9" y="241.3" class="pl">e</text>
<text transform="translate(38.5,244.5) scale(1,1.05)" class="rh">Rho = -0.2292, p < 0.0001</text>
<text transform="translate(9.0,305.4) rotate(-90) scale(1,1.05)" class="yl">PPI (78-120 dB)</text>
<path d="M45.7 268.6h0M48.4 295.7h0M43.3 275.8h0M49.4 277.4h0M43.2 319.9h0M50.4 305.6h0M39.5 281.8h0M48.8 314.2h0M46.1 269.2h0M48.9 277.9h0M46.3 272.2h0M49.1 302.7h0M48.0 265.8h0M47.4 318.4h0M50.1 276.1h0M41.5 282.2h0M49.9 296.2h0M46.3 315.6h0M48.0 281.1h0M47.6 271.2h0M44.9 282.6h0M46.3 283.4h0M50.2 302.6h0M45.9 281.7h0M49.8 279.1h0M39.4 302.2h0M46.8 271.1h0M47.8 277.3h0M45.0 278.2h0M41.0 280.6h0M48.7 292.7h0M48.4 282.7h0M44.8 265.3h0M41.2 287.1h0M49.1 269.7h0M48.6 265.8h0M49.1 296.4h0M49.0 276.5h0M43.5 285.2h0M47.2 269.1h0M45.7 313.8h0M44.9 285.8h0M45.1 267.4h0M47.7 270.1h0M50.4 284.1h0M45.8 268.1h0M44.7 275.7h0M47.3 263.1h0M47.3 311.0h0M45.1 307.8h0M47.4 279.3h0M47.5 284.0h0M48.3 276.2h0M42.3 281.1h0M47.5 292.0h0M45.2 276.6h0M49.5 288.7h0M47.2 283.5h0M48.9 267.1h0M48.9 268.3h0M42.9 281.4h0M40.9 285.4h0M48.5 278.6h0M40.5 285.1h0M50.0 290.3h0M47.8 270.3h0M45.3 297.5h0M47.7 276.1h0M41.8 302.2h0M47.4 275.4h0M49.8 267.3h0M39.0 303.5h0M50.0 266.8h0M44.0 274.0h0M45.0 282.9h0M50.0 289.6h0M48.8 268.2h0M44.9 275.2h0M50.3 272.6h0M40.0 308.1h0M47.6 283.4h0M46.1 310.4h0M49.5 284.7h0M39.7 279.1h0M44.2 290.4h0M45.8 284.4h0M40.8 295.8h0M47.4 267.4h0M49.2 290.9h0M49.7 286.1h0M41.9 277.0h0M46.1 275.5h0M50.3 264.7h0M40.8 273.1h0M48.0 272.5h0M43.8 272.9h0M49.7 291.4h0M47.1 284.1h0M49.6 279.8h0M40.4 286.8h0M47.1 308.5h0M45.2 284.5h0M41.4 289.9h0M45.1 269.0h0M48.3 273.9h0M46.8 279.8h0M47.0 298.7h0M43.7 276.2h0M46.1 282.7h0M45.5 279.3h0M49.7 290.6h0M49.5 272.0h0M45.4 269.8h0M46.1 274.4h0M43.8 303.0h0M46.7 300.6h0M41.7 312.5h0M50.2 275.7h0M45.2 287.6h0M39.4 294.3h0M43.9 272.5h0M50.1 269.0h0M44.0 271.7h0M44.9 270.7h0M50.3 275.8h0M48.7 288.9h0M44.6 282.8h0M42.2 295.6h0M44.9 296.5h0M44.7 294.1h0M49.6 276.5h0M46.4 278.6h0M49.9 292.5h0M50.4 271.6h0M49.4 305.1h0M45.1 288.1h0M44.9 276.2h0M46.5 271.7h0M47.7 279.6h0M49.2 270.6h0M49.0 275.8h0M44.1 320.6h0M48.2 275.9h0M44.8 278.6h0M48.6 273.3h0M39.5 280.1h0M49.2 275.4h0M47.9 280.8h0M42.0 288.3h0M43.3 282.2h0M44.0 282.2h0M46.2 275.7h0M49.7 308.0h0M50.2 278.0h0M47.0 277.4h0M41.4 282.0h0M50.3 266.6h0M50.1 267.9h0M41.1 288.6h0M47.6 274.1h0M47.6 279.9h0M47.6 278.1h0M48.1 279.3h0M39.3 291.1h0M44.0 291.2h0M44.3 307.6h0M47.5 275.8h0M41.2 274.6h0M43.6 285.7h0M42.4 277.4h0M40.3 291.2h0M45.8 275.2h0M42.7 286.9h0M45.9 279.2h0M42.8 315.9h0M48.7 312.6h0M41.4 281.7h0M48.6 310.4h0M47.5 296.9h0M42.1 276.8h0M44.8 277.7h0M44.8 275.8h0M45.6 274.6h0M47.7 280.7h0M39.6 294.7h0M42.2 285.2h0M47.9 280.8h0M41.1 271.2h0M49.2 265.8h0M44.7 281.3h0M40.1 289.5h0M48.5 274.9h0M43.3 275.1h0M50.5 282.9h0M49.8 317.1h0M49.5 265.5h0M49.5 269.1h0M40.8 297.0h0M39.9 300.2h0M45.0 284.0h0M45.2 275.7h0M45.1 273.2h0M47.0 280.2h0M48.7 302.1h0M48.7 275.7h0M49.9 272.7h0M47.7 277.5h0M49.5 281.4h0M41.1 279.6h0M39.9 286.8h0M45.6 286.3h0M49.5 276.7h0M44.9 287.7h0M41.4 311.2h0M41.7 279.3h0M43.1 287.9h0M49.3 275.8h0M44.3 311.8h0M49.3 294.4h0M50.0 278.6h0M48.6 266.4h0M49.8 289.8h0M43.4 280.6h0M42.6 292.2h0M43.2 280.2h0M39.7 305.4h0M49.9 290.4h0M42.8 284.9h0M47.3 276.4h0M43.7 275.6h0M46.4 274.1h0M45.4 268.4h0M48.1 272.0h0M42.7 274.9h0M43.8 286.2h0M41.9 283.8h0M44.2 261.5h0M49.1 264.4h0M50.2 304.7h0M39.6 280.5h0M49.2 269.6h0M48.2 280.7h0M40.9 272.4h0M42.2 284.9h0M49.4 278.2h0M42.6 268.1h0M49.7 294.1h0M46.4 274.6h0M50.3 291.2h0M46.1 282.7h0M41.7 308.7h0M47.1 280.3h0M45.5 276.1h0M40.8 302.7h0M49.0 298.9h0M49.6 287.0h0M50.2 280.6h0M47.4 321.7h0M46.9 272.3h0M42.6 291.3h0M50.2 271.9h0M48.2 280.8h0M47.6 306.5h0M47.9 268.0h0M49.2 308.0h0M44.4 292.7h0M41.4 279.4h0M50.4 309.1h0M40.0 284.2h0M43.6 282.1h0M46.0 288.7h0M40.2 285.5h0M44.0 280.4h0M49.4 265.1h0M47.2 281.0h0M46.9 265.3h0M39.7 276.0h0M45.3 294.0h0M41.6 289.7h0M44.9 267.3h0M44.9 278.6h0M45.3 276.2h0M44.1 279.8h0M48.6 287.2h0M45.7 280.5h0M49.7 285.2h0M44.4 289.8h0M41.9 284.8h0M44.5 321.3h0M49.4 266.4h0M44.6 278.0h0M49.0 276.4h0M47.9 273.4h0M43.4 268.9h0M42.6 278.5h0M41.5 287.3h0M45.5 280.7h0M47.9 268.3h0M43.8 264.0h0M50.1 314.7h0M39.6 302.9h0M48.7 270.9h0M42.3 282.3h0M50.4 276.4h0M41.2 274.0h0M49.8 299.2h0M45.0 288.2h0M43.8 294.4h0M40.2 286.5h0M42.9 318.8h0M44.8 275.1h0M49.9 287.8h0M50.2 280.3h0M40.9 308.0h0M46.6 280.4h0M40.0 313.2h0M41.3 278.9h0M47.2 267.2h0M46.3 279.0h0M49.6 284.5h0M49.7 311.8h0M42.2 279.0h0M47.3 272.5h0M48.9 272.5h0M48.6 266.9h0M46.7 306.0h0M46.2 272.0h0M46.7 271.3h0M45.2 284.4h0M46.7 282.4h0M49.6 278.3h0M44.5 276.7h0M45.4 277.3h0M45.4 275.0h0M39.1 349.7h0M39.9 354.9h0M40.2 351.6h0M43.7 323.1h0M45.6 329.0h0" stroke="#6a4fbd" stroke-width="1.90" stroke-linecap="round" fill="none" filter="url(#bl)"/>
<path d="M53.1 277.1h0M61.2 272.3h0M64.4 289.8h0M60.9 290.5h0M65.8 274.3h0M56.8 309.2h0M62.4 282.7h0M58.0 277.7h0M67.4 278.8h0M51.6 279.6h0M66.5 295.5h0M50.4 269.9h0M66.2 289.1h0M51.5 284.4h0M62.9 267.3h0M51.7 271.6h0M64.6 294.3h0M53.8 284.9h0M51.2 281.8h0M66.5 292.1h0M60.5 300.7h0M66.0 277.7h0M64.9 277.5h0M51.6 277.4h0M51.6 283.4h0M63.3 282.1h0M66.0 279.2h0M53.1 289.8h0M66.8 288.4h0M50.5 284.4h0M64.4 278.0h0M61.6 281.0h0M56.8 293.6h0M56.8 287.3h0M55.4 265.5h0M58.6 291.2h0M59.0 281.1h0M52.8 285.9h0M50.4 267.8h0M59.6 313.6h0M53.3 284.3h0M51.7 290.5h0M54.4 283.0h0M52.4 272.4h0M66.4 279.0h0M55.1 293.2h0M62.0 269.2h0M50.3 281.5h0M62.2 293.4h0M68.2 284.8h0M64.1 290.1h0M64.3 289.8h0M57.5 287.7h0M58.6 283.2h0M67.1 290.1h0M54.1 296.4h0M59.1 277.8h0M63.6 289.0h0M55.9 270.4h0M58.5 277.4h0M50.7 273.7h0M62.6 282.2h0M52.8 268.3h0M54.5 283.8h0M53.9 289.7h0M63.4 281.0h0M57.1 306.8h0M69.0 289.7h0M65.0 282.8h0M67.6 289.5h0M62.7 272.4h0M54.0 274.2h0M55.7 280.3h0M56.4 285.2h0M53.5 270.4h0M58.4 288.5h0M64.9 288.5h0M59.5 275.9h0M52.8 274.8h0M63.7 267.6h0M68.4 288.1h0M58.5 299.6h0M52.4 274.0h0M63.6 272.7h0M59.8 284.4h0M65.2 270.6h0M61.1 267.7h0M66.5 291.5h0M50.4 283.7h0M62.0 295.2h0M61.0 278.3h0M64.6 278.1h0M53.8 275.1h0M60.7 294.5h0M54.6 287.9h0M64.1 297.6h0M51.4 294.5h0M52.7 292.5h0M68.0 300.4h0M63.8 286.0h0M54.4 277.0h0M55.5 275.5h0M57.8 282.3h0M54.0 286.9h0M52.4 315.8h0M68.5 280.9h0M53.6 283.3h0M64.0 284.0h0M63.4 287.0h0M63.7 289.2h0M55.3 280.9h0M53.8 290.9h0M61.3 273.9h0M69.1 300.7h0M56.9 277.6h0M53.7 293.1h0M59.2 268.9h0M53.2 272.5h0M56.1 289.0h0M63.7 288.5h0M54.2 291.1h0M58.0 318.1h0M61.9 279.9h0M52.7 261.4h0M52.4 292.7h0M68.4 274.8h0M66.4 290.7h0M66.8 283.0h0M60.5 275.1h0M59.1 277.7h0M51.8 276.1h0M54.1 282.6h0M51.9 280.0h0M59.7 281.5h0M57.8 271.2h0M52.9 293.8h0M51.7 284.4h0M60.5 294.6h0M52.4 289.0h0M50.3 286.7h0M53.9 270.7h0M65.1 267.8h0M62.2 271.4h0M59.4 293.6h0M53.9 280.0h0M58.4 292.8h0M50.3 275.3h0M55.7 269.8h0M58.6 277.1h0M51.6 271.9h0M60.6 284.6h0M57.9 300.2h0M51.0 297.7h0M52.5 281.1h0M58.8 277.3h0M67.0 274.0h0M51.0 282.8h0M60.3 282.4h0M54.9 278.8h0M56.9 272.1h0M67.5 286.5h0M61.6 293.6h0M54.9 271.2h0M58.1 278.5h0M68.8 282.8h0M66.4 297.0h0M57.6 282.2h0M59.6 298.5h0M58.2 300.6h0M52.6 282.4h0M68.5 290.1h0M53.9 275.6h0M53.8 267.5h0M51.9 280.3h0M68.0 270.3h0M67.4 291.1h0M61.7 276.7h0M59.6 294.4h0M60.6 282.1h0M56.6 284.6h0M66.9 287.5h0M60.2 277.7h0M66.2 302.5h0M62.9 283.0h0M62.6 291.4h0M62.4 282.8h0M64.5 281.1h0M65.3 288.4h0M62.7 287.4h0M55.6 291.9h0M54.6 276.0h0M53.3 286.6h0M66.2 281.3h0M58.8 295.5h0M50.2 266.9h0M61.0 292.7h0M66.3 274.8h0M67.5 289.9h0M67.9 281.0h0M66.4 286.7h0M53.0 274.2h0M59.3 282.7h0M63.2 272.6h0M61.9 277.6h0M56.3 275.4h0M50.7 264.3h0M66.9 291.9h0M64.6 272.9h0M66.4 284.7h0M56.8 295.3h0M54.3 276.5h0M65.9 287.1h0M62.1 268.5h0M62.3 313.0h0M50.7 279.1h0M51.8 277.8h0M64.4 302.0h0M66.7 280.9h0M56.2 290.6h0M66.5 272.6h0M53.1 265.2h0M60.6 283.3h0M56.2 296.0h0M59.7 281.2h0M53.4 278.9h0M56.8 275.2h0M58.3 285.1h0M60.6 294.1h0M53.5 281.9h0M61.1 291.8h0M53.6 265.0h0M68.7 292.7h0M54.2 286.8h0M51.9 280.4h0M54.7 292.3h0M60.4 287.2h0M58.0 283.5h0M62.2 288.3h0M51.9 282.2h0M57.4 270.7h0M60.1 279.1h0M68.6 298.4h0M66.8 289.5h0M60.4 276.4h0M55.2 287.1h0M51.9 279.2h0M61.7 283.9h0M60.3 278.3h0M58.5 284.1h0M63.4 285.6h0M58.4 290.2h0M64.6 281.5h0M55.0 289.6h0M55.7 266.0h0M67.3 306.5h0M60.6 285.3h0M68.2 278.9h0M51.1 280.4h0M67.6 285.0h0M51.0 280.1h0M64.0 291.1h0M60.6 291.6h0M52.1 286.4h0M55.3 270.9h0M58.6 288.2h0M60.2 286.8h0M58.8 286.6h0M50.5 273.1h0M69.0 269.9h0M56.2 290.0h0M63.5 279.3h0M67.7 284.8h0M68.6 289.0h0M53.1 275.8h0M66.9 297.1h0M59.3 275.2h0M62.1 281.8h0M54.2 289.9h0M52.4 265.7h0M60.6 275.5h0M67.2 275.1h0M57.5 295.3h0M68.2 288.5h0M63.1 288.9h0M50.4 273.7h0M67.8 273.6h0M51.9 297.3h0M53.8 280.5h0M60.3 284.2h0M67.9 276.9h0M52.3 317.9h0M55.2 292.8h0M50.8 281.3h0M51.5 289.2h0M57.7 289.2h0M60.5 282.8h0M59.3 287.1h0M50.9 277.0h0M57.7 295.9h0M58.0 264.4h0M67.8 274.5h0M55.7 274.9h0M61.7 295.4h0M58.8 302.1h0M64.6 292.5h0M61.1 285.5h0M69.0 268.9h0M61.7 271.8h0M56.0 286.3h0M57.5 271.1h0M66.2 274.2h0M56.5 281.6h0M67.6 274.8h0M57.9 279.2h0M68.0 291.9h0M52.5 290.9h0M64.7 285.9h0M58.0 273.2h0M53.9 293.0h0M60.8 297.9h0M51.0 274.7h0M53.4 305.2h0M66.0 269.5h0M59.5 286.8h0M55.9 274.8h0M52.4 264.2h0M52.7 293.4h0M54.0 290.3h0M58.3 264.9h0M50.4 282.0h0M53.5 281.7h0M57.7 280.1h0M66.7 275.9h0M66.4 273.4h0M67.8 284.9h0M53.9 283.7h0M52.1 280.4h0M66.0 282.5h0M63.0 272.2h0M54.3 279.6h0M57.7 266.4h0M67.6 293.6h0M65.4 280.2h0M67.8 270.4h0M58.9 270.9h0M53.3 277.5h0M59.8 290.9h0M51.9 286.4h0M52.0 281.4h0M51.5 277.0h0M54.4 283.1h0M52.8 293.5h0M54.5 287.6h0M62.9 279.4h0M62.4 276.3h0M50.5 292.2h0M66.2 288.6h0M65.4 300.2h0M68.0 291.1h0M53.7 257.9h0M63.6 283.8h0M60.2 286.2h0M63.1 289.5h0M67.2 296.6h0M51.4 296.6h0M65.9 285.6h0M66.2 287.8h0M61.9 270.3h0M57.1 296.8h0M59.8 279.0h0M52.4 268.0h0M63.9 302.2h0M60.0 277.0h0M60.5 297.8h0M63.2 279.5h0M51.7 266.5h0M50.9 279.6h0M52.0 277.4h0M51.4 286.1h0M65.1 282.3h0M52.2 269.8h0M56.7 283.4h0M62.1 285.1h0M54.5 277.4h0M67.3 278.3h0M67.4 300.6h0M56.9 281.3h0M60.7 289.5h0M64.7 280.3h0M68.8 276.9h0M62.9 281.2h0M58.1 270.6h0M50.8 288.5h0M61.8 287.4h0M62.2 292.8h0M62.9 283.5h0M56.1 280.7h0M66.3 287.1h0M60.9 294.3h0M56.7 282.5h0M54.2 284.8h0M50.6 274.0h0M63.2 286.7h0M55.5 270.8h0M66.1 283.2h0M55.6 298.2h0M55.3 282.8h0M64.7 297.7h0M56.7 273.0h0M68.9 273.3h0M60.3 283.4h0M67.9 281.9h0M52.1 293.1h0M50.8 300.0h0M50.4 284.4h0M66.6 287.8h0M58.6 296.2h0M63.7 283.5h0M59.5 280.0h0M68.5 280.3h0M65.2 270.9h0M58.6 275.1h0M53.1 283.7h0M56.8 280.8h0M56.9 276.4h0M56.4 291.1h0M63.3 272.2h0M65.8 277.0h0M65.6 287.1h0M53.4 286.3h0M52.9 256.4h0M62.4 276.2h0M63.7 275.8h0M64.7 269.1h0M67.2 276.7h0M55.9 279.5h0M51.2 273.3h0M56.5 290.0h0M55.7 274.9h0M51.9 293.9h0M62.6 280.1h0M59.3 277.6h0M61.5 297.7h0M66.5 269.2h0M60.5 293.6h0M66.8 276.0h0M65.3 289.7h0M59.6 279.9h0M61.4 289.4h0M58.5 263.9h0M56.9 272.4h0M63.6 268.6h0M61.0 276.2h0M56.5 275.3h0M62.1 282.3h0M59.7 284.9h0M51.9 274.3h0M63.9 282.9h0M59.0 283.8h0M67.7 298.2h0M67.1 315.8h0M51.9 274.3h0M54.6 285.1h0M62.9 280.8h0M53.4 281.7h0M65.5 294.3h0M62.5 292.0h0M68.1 292.6h0M56.2 284.0h0M62.8 286.2h0M61.0 273.0h0M62.6 293.7h0M68.1 304.4h0M56.2 275.1h0M54.0 284.7h0M65.1 285.8h0M52.6 261.4h0M60.0 269.5h0M67.6 280.3h0M66.0 276.4h0M62.8 282.7h0M50.4 270.4h0M68.7 291.6h0M58.1 288.5h0M55.1 285.2h0M51.2 265.1h0M52.4 265.8h0M50.8 284.8h0M60.2 272.3h0M56.7 283.0h0M55.1 271.1h0M65.4 287.6h0M51.4 270.8h0M57.5 282.8h0M65.1 287.2h0M65.6 311.5h0M63.2 282.5h0M59.5 287.8h0M52.7 292.4h0M57.0 266.5h0M63.6 287.6h0M64.6 301.0h0M61.2 303.8h0M67.1 310.9h0M60.3 288.4h0M66.0 272.6h0M67.2 300.2h0M52.9 282.9h0M52.5 296.6h0M68.9 317.3h0M55.2 277.5h0M58.0 279.0h0M57.6 269.5h0M66.0 270.0h0M50.3 269.7h0M58.9 287.5h0M58.3 294.1h0M51.7 289.1h0M58.0 297.9h0M66.6 269.5h0M50.9 281.0h0M54.3 279.4h0M61.2 281.3h0M59.9 266.2h0M64.2 289.4h0M56.0 270.4h0M52.1 276.9h0M56.5 282.7h0M65.7 302.3h0M57.8 273.4h0M57.0 288.3h0M64.7 288.6h0M60.7 280.8h0M52.3 278.9h0M56.7 271.2h0M67.3 291.5h0M50.6 277.6h0M64.3 281.7h0M55.4 280.7h0M64.0 277.9h0M52.8 282.3h0M62.1 272.4h0M66.3 291.4h0M51.1 292.5h0M68.3 286.1h0M51.8 268.8h0M50.4 283.7h0M65.5 290.4h0M59.3 285.5h0M50.7 277.6h0M62.1 285.0h0M59.2 279.5h0M69.1 301.7h0M68.7 272.2h0M66.6 279.8h0M59.5 290.3h0M65.4 272.1h0M63.7 279.9h0M54.7 267.2h0M64.0 294.8h0M55.2 265.9h0M57.5 281.3h0M51.4 298.2h0M52.3 272.9h0M59.1 285.0h0M65.8 294.0h0M64.9 286.4h0M52.7 297.6h0M59.9 277.2h0M55.4 282.9h0M53.5 282.7h0M56.5 268.4h0M62.6 283.3h0M67.6 291.5h0M51.7 288.2h0M55.1 281.3h0M64.0 274.4h0M59.0 287.6h0M56.9 290.9h0M65.1 276.1h0M50.4 278.5h0M68.0 285.9h0M54.7 263.9h0M66.0 295.9h0M65.7 282.9h0M65.8 301.0h0M61.4 285.9h0M62.0 278.0h0M50.9 268.9h0M57.6 293.3h0M61.5 275.6h0M54.7 273.5h0M62.6 284.7h0M60.1 264.4h0M62.4 283.5h0M66.2 293.0h0M55.9 277.2h0M61.5 300.2h0M50.9 265.0h0M65.0 275.5h0M65.3 288.3h0M62.8 278.0h0M62.8 278.8h0M60.2 266.6h0M55.7 286.6h0M65.0 296.3h0M52.2 298.3h0M60.6 285.6h0M51.8 293.9h0M63.9 285.7h0M59.1 278.5h0M61.7 287.3h0M52.9 288.6h0M57.4 270.8h0M62.2 285.3h0M57.9 279.7h0M63.5 275.2h0M51.4 291.4h0M56.3 289.7h0M51.8 261.2h0M63.8 285.5h0M57.0 291.0h0M64.0 286.4h0M64.1 289.4h0M50.7 290.4h0M61.4 286.9h0M65.1 284.7h0M67.4 285.5h0M51.5 274.5h0M51.6 295.3h0M58.0 295.5h0M64.0 276.9h0M51.9 283.6h0M69.1 274.9h0M63.3 281.1h0M50.4 291.9h0M63.9 279.2h0M57.7 291.0h0M53.0 277.6h0M62.3 272.3h0M63.3 267.1h0M61.4 283.8h0M54.4 274.2h0M53.1 277.3h0M51.0 272.1h0M52.8 303.2h0M56.4 284.8h0M55.9 278.5h0M51.2 275.1h0M65.9 291.7h0M53.2 272.6h0M51.4 269.3h0M53.6 279.6h0M57.9 283.9h0M61.5 286.4h0M51.4 278.1h0M52.6 269.1h0M50.5 265.4h0M57.1 285.8h0M69.1 294.5h0M64.7 291.6h0M66.1 275.9h0M67.4 283.4h0M53.8 277.6h0M61.9 279.0h0M57.4 278.2h0M56.4 282.4h0M64.2 293.7h0M60.3 288.4h0M61.5 282.1h0M54.7 277.1h0M67.9 289.0h0M62.1 287.2h0M61.6 270.8h0M64.2 288.5h0M67.4 283.4h0M53.0 282.9h0M54.6 288.4h0M68.6 299.6h0M62.5 288.4h0M58.4 259.1h0M51.0 317.5h0M55.7 316.4h0M64.9 314.2h0" stroke="#4cc476" stroke-width="1.90" stroke-linecap="round" fill="none" filter="url(#bl)"/>
<path d="M70.9 294.3h0M83.5 290.7h0M74.1 295.5h0M97.7 287.3h0M81.6 278.2h0M88.1 280.9h0M72.1 284.3h0M75.4 279.1h0M72.2 301.4h0M90.0 274.3h0M75.4 287.9h0M81.9 296.9h0M76.8 290.4h0M82.1 292.2h0M74.4 286.8h0M74.1 285.2h0M71.7 305.9h0M80.5 278.5h0M86.2 275.8h0M70.2 295.8h0M93.7 278.3h0M73.2 277.8h0M76.8 280.0h0M72.2 274.8h0M82.3 297.4h0M68.9 281.7h0M69.3 295.7h0M84.5 271.1h0M82.9 294.4h0M77.9 296.7h0M76.2 279.1h0M73.0 282.8h0M75.5 287.4h0M84.2 286.6h0M76.0 282.9h0M72.6 274.1h0M72.0 293.2h0M75.3 291.8h0M87.3 291.5h0M85.5 288.1h0M81.8 287.5h0M75.4 297.4h0M74.2 285.3h0M78.3 297.0h0M87.1 289.7h0M70.3 289.6h0M71.3 289.5h0M80.6 276.8h0M70.6 274.6h0M91.4 280.6h0M93.6 277.5h0M75.4 289.8h0M87.0 278.0h0M71.6 288.0h0M71.0 285.8h0M80.4 285.6h0M84.3 297.0h0M81.5 292.0h0M71.8 288.8h0M80.8 284.9h0M77.2 288.5h0M85.5 293.5h0M70.6 296.8h0M76.5 287.5h0M69.3 297.1h0M93.8 295.1h0M69.1 288.4h0M96.5 286.5h0M75.2 293.9h0M82.0 300.4h0M85.2 285.6h0M87.2 282.0h0M83.6 290.5h0M77.7 290.4h0M72.8 305.8h0M77.6 280.8h0M79.0 295.7h0M85.8 282.6h0M83.9 291.8h0M89.1 288.6h0M79.1 289.0h0M80.8 300.7h0M80.3 268.2h0M74.9 299.6h0M74.7 286.8h0M70.2 294.1h0M70.3 289.5h0M81.3 277.7h0M69.3 302.6h0M80.5 288.6h0M70.0 283.7h0M71.9 286.7h0M78.7 284.7h0M78.1 293.2h0M86.9 298.8h0M81.8 297.0h0M74.0 290.8h0M76.8 282.0h0M87.5 287.1h0M79.0 275.8h0M91.4 286.9h0M72.6 286.1h0M72.8 286.0h0M70.5 301.4h0M90.5 283.8h0M74.8 296.1h0M73.9 290.5h0M70.9 269.2h0M76.2 297.0h0M81.3 286.7h0M79.8 285.5h0M69.7 286.6h0M69.1 287.6h0M92.0 291.2h0M77.0 272.6h0M72.6 303.3h0M78.9 295.2h0M72.0 275.9h0M82.2 283.7h0M77.3 293.4h0M75.0 294.5h0M81.9 289.4h0M76.4 268.3h0M71.7 283.7h0M72.6 295.7h0M77.9 285.8h0M76.0 292.4h0M88.1 277.5h0M81.1 285.5h0M82.3 278.6h0M70.4 286.3h0M76.7 272.2h0M70.3 284.3h0M74.1 285.4h0M84.8 294.7h0M73.6 290.9h0M75.4 284.6h0M80.7 291.2h0M75.1 268.9h0M74.4 287.7h0M76.7 293.4h0M80.4 280.4h0M77.3 291.6h0M81.8 284.7h0M86.1 288.2h0M87.0 292.5h0M85.1 277.9h0M75.8 286.9h0M78.1 279.5h0M78.9 290.1h0M96.5 296.4h0M81.9 296.5h0M79.8 291.4h0M81.8 288.9h0M95.0 287.3h0M82.6 283.9h0M72.2 297.4h0M70.8 285.8h0M72.0 297.2h0M70.8 293.1h0M75.7 268.6h0M80.5 278.3h0M72.8 290.4h0M80.7 274.6h0M85.0 277.7h0M82.9 281.3h0M68.9 275.7h0M73.7 289.5h0M83.3 288.5h0M72.0 294.4h0M75.4 283.1h0M70.5 297.6h0M89.1 291.0h0M77.1 284.2h0M77.4 291.4h0M76.8 285.0h0M71.9 273.2h0M76.8 295.0h0M84.3 277.8h0M81.2 292.6h0M76.4 294.7h0M79.8 286.0h0M86.4 280.5h0M90.2 292.3h0M80.5 292.9h0M72.7 291.1h0M73.5 293.2h0M77.0 286.2h0M89.2 292.4h0M74.3 289.6h0M75.8 284.9h0M69.0 291.0h0M68.9 278.3h0M86.0 292.3h0M72.9 293.6h0M72.7 271.6h0M71.6 275.7h0M79.6 287.1h0M69.6 280.9h0M77.8 285.1h0M71.8 291.6h0M78.8 282.6h0M68.5 285.1h0M70.6 277.4h0M84.0 300.6h0M80.4 281.7h0M72.1 286.3h0M79.4 292.7h0M69.4 291.1h0M81.0 290.5h0M80.0 297.3h0M72.6 292.1h0M91.1 282.5h0M68.7 299.9h0M88.2 290.1h0M73.3 306.0h0M70.2 292.2h0M73.1 284.6h0M85.0 288.0h0M95.8 287.3h0M86.5 295.3h0M79.0 283.4h0M78.0 294.3h0M83.2 281.2h0M74.2 286.0h0M73.9 290.6h0M82.6 277.0h0M86.1 290.3h0M68.7 279.3h0M79.6 286.8h0M75.8 287.6h0M79.7 280.3h0M85.6 284.6h0M93.2 287.7h0M68.6 288.6h0M82.9 286.1h0M77.5 287.0h0M76.0 290.1h0M76.8 295.4h0M69.6 308.5h0M76.5 288.4h0M72.7 289.5h0M70.7 277.9h0M88.6 284.6h0M77.6 279.1h0M81.6 275.1h0M73.5 288.4h0M74.0 294.1h0M74.0 281.3h0M79.2 292.0h0M83.9 289.4h0M70.5 276.1h0M81.9 283.6h0M68.7 278.7h0M77.6 297.7h0M73.9 287.3h0M86.0 279.9h0M96.5 295.5h0M79.4 286.1h0M92.3 285.0h0M75.1 305.3h0M83.9 276.3h0M81.7 292.7h0M81.6 288.6h0M79.8 275.3h0M71.9 301.7h0M86.2 284.4h0M78.4 290.9h0M74.7 287.2h0M80.5 293.6h0M89.4 278.5h0M80.6 295.7h0M77.9 284.9h0M70.3 283.2h0M87.8 288.2h0M75.4 289.7h0M79.3 289.5h0M80.1 280.1h0M68.5 283.9h0M90.0 288.1h0M85.9 295.1h0M81.8 286.4h0M75.1 283.5h0M79.9 287.8h0M69.5 276.0h0M95.7 299.5h0M88.8 270.9h0M90.2 288.8h0M77.6 296.1h0M84.6 299.8h0M72.2 280.8h0M83.5 283.5h0M79.3 289.2h0M86.5 287.9h0M70.7 286.2h0M87.3 290.5h0M84.9 279.5h0M72.5 282.7h0M79.9 288.5h0M69.4 300.8h0M75.7 277.1h0M74.8 291.2h0M81.5 295.0h0M87.1 278.8h0M71.0 283.6h0M70.2 303.7h0M83.0 299.4h0M86.1 290.3h0M83.4 296.5h0M76.0 288.7h0M77.8 268.6h0M88.6 268.2h0M86.6 287.8h0M93.5 282.5h0M69.5 280.4h0M73.8 288.5h0M99.4 272.4h0M102.4 278.0h0M106.1 285.8h0M109.5 283.5h0M104.2 289.1h0M103.9 291.5h0M105.4 292.8h0M107.4 292.8h0M110.3 297.2h0M113.5 290.2h0M115.3 285.8h0M114.9 288.3h0M115.6 289.1h0M115.1 287.6h0M117.9 292.8h0M118.7 296.5h0M120.0 283.2h0M121.1 294.6h0M123.5 290.7h0M101.7 298.3h0M98.9 296.8h0M142.8 287.6h0M143.1 288.9h0M143.1 291.9h0" stroke="#f3960f" stroke-width="1.90" stroke-linecap="round" fill="none" filter="url(#bl)"/>
<text transform="translate(31.3,253.00) scale(1,1.05)" class="yt">120</text>
<text transform="translate(31.3,275.18) scale(1,1.05)" class="yt">60</text>
<text transform="translate(31.3,297.36) scale(1,1.05)" class="yt">0</text>
<text transform="translate(31.3,319.54) scale(1,1.05)" class="yt">-60</text>
<text transform="translate(31.3,341.72) scale(1,1.05)" class="yt">-120</text>
<text transform="translate(31.3,363.90) scale(1,1.05)" class="yt">-180</text>
<text transform="translate(38.0,375.5) scale(1,1.05)" class="xt">0</text>
<text transform="translate(65.7,375.5) scale(1,1.05)" class="xt">2</text>
<text transform="translate(93.4,375.5) scale(1,1.05)" class="xt">4</text>
<text transform="translate(121.1,375.5) scale(1,1.05)" class="xt">6</text>
<text transform="translate(148.8,375.5) scale(1,1.05)" class="xt">8</text>
<path d="M38.0 249.9V360.8M38.0 360.8H148.8M33.0 249.9H38.0M33.0 272.1H38.0M33.0 294.3H38.0M33.0 316.4H38.0M33.0 338.6H38.0M33.0 360.8H38.0M38.0 360.8V365.8M65.7 360.8V365.8M93.4 360.8V365.8M121.1 360.8V365.8M148.8 360.8V365.8" stroke="#231f20" stroke-width="1" fill="none"/>
<text transform="translate(93.4,387.9) scale(1,1.05)" class="xt">ASR (120 dB)</text>
<text x="176.6" y="241.3" class="pl">f</text>
<text transform="translate(216.0,244.5) scale(1,1.05)" class="rh">Rho = 0.0804, p = 0.1392</text>
<text transform="translate(186.5,305.4) rotate(-90) scale(1,1.05)" class="yl">PPI (78-120 dB)</text>
<line x1="215.5" y1="289.3" x2="326.5" y2="278.1" stroke="#111" stroke-width="1.15"/>
<path d="M277.2 268.6h0M299.1 295.7h0M258.1 275.8h0M306.5 277.4h0M257.6 319.9h0M314.8 305.6h0M227.8 281.8h0M301.8 314.2h0M280.0 269.2h0M303.2 277.9h0M281.6 272.2h0M304.4 302.7h0M295.6 265.8h0M290.6 318.4h0M312.2 276.1h0M243.9 282.2h0M310.6 296.2h0M281.7 315.6h0M295.6 281.1h0M292.7 271.2h0M271.1 282.6h0M282.1 283.4h0M313.6 302.6h0M279.0 281.7h0M310.0 279.1h0M226.5 302.2h0M285.8 271.1h0M294.3 277.3h0M271.4 278.2h0M239.2 280.6h0M301.5 292.7h0M298.8 282.7h0M270.2 265.3h0M241.3 287.1h0M304.8 269.7h0M300.4 265.8h0M304.4 296.4h0M303.4 276.5h0M259.5 285.2h0M289.5 269.1h0M277.2 313.8h0M271.0 285.8h0M272.7 267.4h0M293.1 270.1h0M315.3 284.1h0M277.8 268.1h0M268.9 275.7h0M289.8 263.1h0M289.9 311.0h0M272.4 307.8h0M291.1 279.3h0M291.9 284.0h0M298.4 276.2h0M249.6 281.1h0M291.6 292.0h0M273.3 276.6h0M307.5 288.7h0M289.1 283.5h0M302.8 267.1h0M302.8 268.3h0M254.5 281.4h0M238.7 285.4h0M299.3 278.6h0M235.4 285.1h0M312.0 290.3h0M294.3 270.3h0M273.7 297.5h0M292.9 276.1h0M245.6 302.2h0M290.5 275.4h0M310.2 267.3h0M223.4 303.5h0M311.4 266.8h0M263.9 274.0h0M271.5 282.9h0M311.5 289.6h0M301.8 268.2h0M270.5 275.2h0M314.1 272.6h0M231.7 308.1h0M292.2 283.4h0M280.7 310.4h0M308.0 284.7h0M229.0 279.1h0M264.9 290.4h0M278.3 284.4h0M238.1 295.8h0M291.1 267.4h0M305.3 290.9h0M309.3 286.1h0M247.0 277.0h0M280.5 275.5h0M314.4 264.7h0M237.8 273.1h0M295.4 272.5h0M261.6 272.9h0M309.4 291.4h0M288.3 284.1h0M308.6 279.8h0M234.7 286.8h0M288.1 308.5h0M273.5 284.5h0M242.7 289.9h0M272.6 269.0h0M298.0 273.9h0M286.4 279.8h0M287.2 298.7h0M261.0 276.2h0M280.7 282.7h0M275.7 279.3h0M309.5 290.6h0M307.4 272.0h0M274.9 269.8h0M280.2 274.4h0M262.3 303.0h0M285.2 300.6h0M245.4 312.5h0M313.2 275.7h0M273.0 287.6h0M226.7 294.3h0M262.7 272.5h0M312.1 269.0h0M263.9 271.7h0M270.6 270.7h0M313.8 275.8h0M301.0 288.9h0M268.4 282.8h0M249.4 295.6h0M271.0 296.5h0M269.5 294.1h0M308.5 276.5h0M283.1 278.6h0M310.5 292.5h0M314.5 271.6h0M306.8 305.1h0M272.3 288.1h0M271.0 276.2h0M283.7 271.7h0M293.6 279.6h0M305.4 270.6h0M303.3 275.8h0M264.1 320.6h0M297.6 275.9h0M269.7 278.6h0M300.5 273.3h0M227.8 280.1h0M305.4 275.4h0M294.9 280.8h0M247.3 288.3h0M258.2 282.2h0M264.0 282.2h0M281.1 275.7h0M309.2 308.0h0M313.5 278.0h0M287.9 277.4h0M242.8 282.0h0M314.0 266.6h0M312.8 267.9h0M240.1 288.6h0M292.6 274.1h0M292.6 279.9h0M292.2 278.1h0M296.8 279.3h0M225.6 291.1h0M263.7 291.2h0M266.3 307.6h0M291.4 275.8h0M241.0 274.6h0M260.7 285.7h0M250.5 277.4h0M234.2 291.2h0M277.8 275.2h0M253.6 286.9h0M278.6 279.2h0M253.8 315.9h0M301.5 312.6h0M243.1 281.7h0M300.1 310.4h0M292.0 296.9h0M248.6 276.8h0M269.9 277.7h0M270.3 275.8h0M276.3 274.6h0M293.2 280.7h0M228.1 294.7h0M249.4 285.2h0M294.9 280.8h0M240.7 271.2h0M305.1 265.8h0M269.2 281.3h0M232.3 289.5h0M299.9 274.9h0M257.7 275.1h0M315.3 282.9h0M310.3 317.1h0M307.9 265.5h0M307.8 269.1h0M238.1 297.0h0M230.6 300.2h0M271.9 284.0h0M273.5 275.7h0M272.5 273.2h0M287.5 280.2h0M301.0 302.1h0M301.3 275.7h0M310.8 272.7h0M293.3 277.5h0M307.3 281.4h0M240.5 279.6h0M230.4 286.8h0M276.1 286.3h0M307.7 276.7h0M270.5 287.7h0M243.0 311.2h0M244.9 279.3h0M256.1 287.9h0M306.4 275.8h0M266.2 311.8h0M306.1 294.4h0M311.6 278.6h0M300.3 266.4h0M310.4 289.8h0M258.7 280.6h0M252.6 292.2h0M257.4 280.2h0M228.8 305.4h0M310.9 290.4h0M253.8 284.9h0M289.9 276.4h0M261.5 275.6h0M283.1 274.1h0M274.8 268.4h0M296.5 272.0h0M253.2 274.9h0M261.9 286.2h0M246.4 283.8h0M265.2 261.5h0M304.4 264.4h0M313.0 304.7h0M228.2 280.5h0M305.2 269.6h0M297.5 280.7h0M238.9 272.4h0M248.9 284.9h0M306.5 278.2h0M252.5 268.1h0M309.4 294.1h0M283.1 274.6h0M314.4 291.2h0M280.4 282.7h0M245.5 308.7h0M288.2 280.3h0M275.6 276.1h0M237.7 302.7h0M303.3 298.9h0M308.8 287.0h0M313.1 280.6h0M291.0 321.7h0M286.4 272.3h0M252.6 291.3h0M313.1 271.9h0M297.5 280.8h0M292.8 306.5h0M294.6 268.0h0M304.9 308.0h0M266.8 292.7h0M243.1 279.4h0M314.8 309.1h0M231.5 284.2h0M260.3 282.1h0M279.3 288.7h0M233.0 285.5h0M263.9 280.4h0M306.9 265.1h0M289.6 281.0h0M286.5 265.3h0M228.9 276.0h0M274.1 294.0h0M244.4 289.7h0M270.7 267.3h0M270.8 278.6h0M273.9 276.2h0M264.4 279.8h0M300.8 287.2h0M277.0 280.5h0M309.4 285.2h0M266.9 289.8h0M247.0 284.8h0M267.9 321.3h0M306.9 266.4h0M268.2 278.0h0M303.5 276.4h0M294.5 273.4h0M259.0 268.9h0M252.2 278.5h0M243.3 287.3h0M275.9 280.7h0M294.7 268.3h0M262.4 264.0h0M312.4 314.7h0M228.0 302.9h0M301.1 270.9h0M249.9 282.3h0M315.3 276.4h0M241.4 274.0h0M310.2 299.2h0M271.9 288.2h0M261.7 294.4h0M233.1 286.5h0M255.1 318.8h0M270.4 275.1h0M311.2 287.8h0M313.3 280.3h0M238.9 308.0h0M284.8 280.4h0M231.6 313.2h0M242.1 278.9h0M288.9 267.2h0M282.1 279.0h0M308.9 284.5h0M309.1 311.8h0M248.8 279.0h0M290.2 272.5h0M302.5 272.5h0M300.2 266.9h0M285.2 306.0h0M281.0 272.0h0M285.5 271.3h0M272.9 284.4h0M285.1 282.4h0M308.3 278.3h0M267.3 276.7h0M275.2 277.3h0M275.0 275.0h0M224.4 349.7h0M231.0 354.9h0M233.3 351.6h0M261.0 323.1h0M276.6 329.0h0" stroke="#6a4fbd" stroke-width="2.60" stroke-linecap="round" fill="none" filter="url(#bl)"/>
<text transform="translate(208.8,253.00) scale(1,1.05)" class="yt">120</text>
<text transform="translate(208.8,275.18) scale(1,1.05)" class="yt">60</text>
<text transform="translate(208.8,297.36) scale(1,1.05)" class="yt">0</text>
<text transform="translate(208.8,319.54) scale(1,1.05)" class="yt">-60</text>
<text transform="translate(208.8,341.72) scale(1,1.05)" class="yt">-120</text>
<text transform="translate(208.8,363.90) scale(1,1.05)" class="yt">-180</text>
<text transform="translate(215.5,375.5) scale(1,1.05)" class="xt">0</text>
<text transform="translate(237.7,375.5) scale(1,1.05)" class="xt">0.2</text>
<text transform="translate(259.9,375.5) scale(1,1.05)" class="xt">0.4</text>
<text transform="translate(282.1,375.5) scale(1,1.05)" class="xt">0.6</text>
<text transform="translate(304.3,375.5) scale(1,1.05)" class="xt">0.8</text>
<text transform="translate(326.5,375.5) scale(1,1.05)" class="xt">1</text>
<path d="M215.5 249.9V360.8M215.5 360.8H326.5M210.5 249.9H215.5M210.5 272.1H215.5M210.5 294.3H215.5M210.5 316.4H215.5M210.5 338.6H215.5M210.5 360.8H215.5M215.5 360.8V365.8M237.7 360.8V365.8M259.9 360.8V365.8M282.1 360.8V365.8M304.3 360.8V365.8M326.5 360.8V365.8" stroke="#231f20" stroke-width="1" fill="none"/>
<text transform="translate(271.0,387.9) scale(1,1.05)" class="xt">ASR (120 dB)</text>
<text x="354.4" y="241.3" class="pl">g</text>
<text transform="translate(393.8,244.5) scale(1,1.05)" class="rh">Rho = -0.1548, p < 0.0001</text>
<text transform="translate(364.3,305.4) rotate(-90) scale(1,1.05)" class="yl">PPI (78-120 dB)</text>
<line x1="393.3" y1="280.2" x2="503.9" y2="286.6" stroke="#111" stroke-width="1.15"/>
<path d="M413.4 277.1h0M453.8 272.3h0M469.9 289.8h0M452.2 290.5h0M476.8 274.3h0M431.7 309.2h0M459.7 282.7h0M438.0 277.7h0M484.8 278.8h0M405.9 279.6h0M480.1 295.5h0M399.7 269.9h0M478.7 289.1h0M405.2 284.4h0M462.6 267.3h0M406.5 271.6h0M471.0 294.3h0M417.0 284.9h0M403.9 281.8h0M480.2 292.1h0M450.6 300.7h0M477.8 277.7h0M472.2 277.5h0M405.9 277.4h0M406.1 283.4h0M464.4 282.1h0M477.7 279.2h0M413.2 289.8h0M481.9 288.4h0M400.6 284.4h0M469.8 278.0h0M455.6 281.0h0M432.0 293.6h0M431.7 287.3h0M424.7 265.5h0M440.7 291.2h0M443.1 281.1h0M411.9 285.9h0M399.7 267.8h0M445.7 313.6h0M414.1 284.3h0M406.2 290.5h0M419.7 283.0h0M410.1 272.4h0M479.7 279.0h0M423.2 293.2h0M457.6 269.2h0M399.4 281.5h0M459.0 293.4h0M488.9 284.8h0M468.4 290.1h0M469.3 289.8h0M435.1 287.7h0M440.9 283.2h0M483.4 290.1h0M418.3 296.4h0M443.6 277.8h0M465.8 289.0h0M427.5 270.4h0M440.3 277.4h0M401.2 273.7h0M461.1 282.2h0M412.1 268.3h0M420.3 283.8h0M417.2 289.7h0M464.7 281.0h0M433.4 306.8h0M493.0 289.7h0M472.9 282.8h0M485.7 289.5h0M461.6 272.4h0M417.7 274.2h0M426.3 280.3h0M430.0 285.2h0M415.2 270.4h0M439.8 288.5h0M472.1 288.5h0M445.2 275.9h0M412.0 274.8h0M466.2 267.6h0M490.0 288.1h0M440.6 299.6h0M409.9 274.0h0M465.9 272.7h0M446.9 284.4h0M473.8 270.6h0M453.4 267.7h0M480.4 291.5h0M399.7 283.7h0M457.9 295.2h0M453.0 278.3h0M470.8 278.1h0M416.6 275.1h0M451.4 294.5h0M421.0 287.9h0M468.4 297.6h0M404.7 294.5h0M411.3 292.5h0M487.9 300.4h0M466.7 286.0h0M419.7 277.0h0M425.2 275.5h0M436.7 282.3h0M418.0 286.9h0M409.8 315.8h0M490.5 280.9h0M416.0 283.3h0M467.7 284.0h0M464.7 287.0h0M466.5 289.2h0M424.3 280.9h0M417.0 290.9h0M454.5 273.9h0M493.1 300.7h0M432.4 277.6h0M416.6 293.1h0M443.8 268.9h0M414.1 272.5h0M428.4 289.0h0M466.4 288.5h0M418.8 291.1h0M438.1 318.1h0M457.2 279.9h0M411.4 261.4h0M410.1 292.7h0M490.0 274.8h0M479.9 290.7h0M481.7 283.0h0M450.1 275.1h0M443.5 277.7h0M407.1 276.1h0M418.6 282.6h0M407.4 280.0h0M446.2 281.5h0M436.8 271.2h0M412.6 293.8h0M406.3 284.4h0M450.3 294.6h0M409.8 289.0h0M399.6 286.7h0M417.3 270.7h0M473.3 267.8h0M458.6 271.4h0M444.7 293.6h0M417.2 280.0h0M439.9 292.8h0M399.4 275.3h0M426.4 269.8h0M441.1 277.1h0M405.7 271.9h0M450.9 284.6h0M437.5 300.2h0M402.7 297.7h0M410.4 281.1h0M441.9 277.3h0M482.9 274.0h0M402.9 282.8h0M449.1 282.4h0M422.6 278.8h0M432.3 272.1h0M485.6 286.5h0M455.8 293.6h0M422.6 271.2h0M438.4 278.5h0M491.7 282.8h0M479.9 297.0h0M435.9 282.2h0M446.0 298.5h0M439.0 300.6h0M410.6 282.4h0M490.3 290.1h0M417.6 275.6h0M416.7 267.5h0M407.2 280.3h0M487.6 270.3h0M484.8 291.1h0M456.6 276.7h0M445.8 294.4h0M451.0 282.1h0M430.6 284.6h0M482.2 287.5h0M448.7 277.7h0M478.7 302.5h0M462.3 283.0h0M460.7 291.4h0M460.0 282.8h0M470.5 281.1h0M474.4 288.4h0M461.2 287.4h0M426.0 291.9h0M420.7 276.0h0M414.6 286.6h0M478.7 281.3h0M441.7 295.5h0M398.8 266.9h0M452.8 292.7h0M479.5 274.8h0M485.2 289.9h0M487.2 281.0h0M480.0 286.7h0M412.9 274.2h0M444.6 282.7h0M463.7 272.6h0M457.2 277.6h0M429.5 275.4h0M401.4 264.3h0M482.5 291.9h0M470.8 272.9h0M479.7 284.7h0M432.1 295.3h0M419.3 276.5h0M477.5 287.1h0M458.3 268.5h0M459.6 313.0h0M401.2 279.1h0M407.0 277.8h0M469.9 302.0h0M481.6 280.9h0M429.0 290.6h0M480.4 272.6h0M413.1 265.2h0M450.9 283.3h0M428.6 296.0h0M446.4 281.2h0M414.7 278.9h0M431.8 275.2h0M439.3 285.1h0M450.8 294.1h0M415.4 281.9h0M453.4 291.8h0M416.0 265.0h0M491.1 292.7h0M418.7 286.8h0M407.2 280.4h0M421.4 292.3h0M449.7 287.2h0M437.9 283.5h0M458.8 288.3h0M407.2 282.2h0M434.6 270.7h0M448.5 279.1h0M491.0 298.4h0M481.9 289.5h0M450.1 276.4h0M424.1 287.1h0M407.6 279.2h0M456.1 283.9h0M449.2 278.3h0M440.6 284.1h0M464.9 285.6h0M439.7 290.2h0M470.9 281.5h0M423.0 289.6h0M426.6 266.0h0M484.5 306.5h0M450.8 285.3h0M488.9 278.9h0M403.2 280.4h0M485.8 285.0h0M402.9 280.1h0M467.7 291.1h0M450.8 291.6h0M408.2 286.4h0M424.3 270.9h0M441.1 288.2h0M448.7 286.8h0M441.9 286.6h0M400.6 273.1h0M493.1 269.9h0M428.9 290.0h0M465.1 279.3h0M486.2 284.8h0M490.9 289.0h0M413.5 275.8h0M482.4 297.1h0M444.3 275.2h0M458.4 281.8h0M419.1 289.9h0M410.1 265.7h0M450.8 275.5h0M483.6 275.1h0M435.2 295.3h0M488.7 288.5h0M463.4 288.9h0M400.0 273.7h0M486.8 273.6h0M407.4 297.3h0M416.9 280.5h0M449.2 284.2h0M487.3 276.9h0M409.3 317.9h0M423.8 292.8h0M402.0 281.3h0M405.4 289.2h0M436.4 289.2h0M450.5 282.8h0M444.1 287.1h0M402.2 277.0h0M436.2 295.9h0M437.6 264.4h0M486.9 274.5h0M426.6 274.9h0M456.2 295.4h0M441.9 302.1h0M470.8 292.5h0M453.3 285.5h0M492.8 268.9h0M456.6 271.8h0M427.9 286.3h0M435.4 271.1h0M478.7 274.2h0M430.4 281.6h0M486.0 274.8h0M437.3 279.2h0M487.7 291.9h0M410.6 290.9h0M471.4 285.9h0M437.7 273.2h0M417.4 293.0h0M451.9 297.9h0M403.1 274.7h0M415.0 305.2h0M477.8 269.5h0M445.4 286.8h0M427.6 274.8h0M410.1 264.2h0M411.5 293.4h0M417.6 290.3h0M439.2 264.9h0M400.1 282.0h0M415.4 281.7h0M436.1 280.1h0M481.5 275.9h0M479.7 273.4h0M486.9 284.9h0M417.2 283.7h0M408.4 280.4h0M478.0 282.5h0M462.7 272.2h0M419.1 279.6h0M436.6 266.4h0M485.8 293.6h0M474.7 280.2h0M487.0 270.4h0M442.5 270.9h0M414.3 277.5h0M446.9 290.9h0M407.5 286.4h0M407.8 281.4h0M405.6 277.0h0M419.6 283.1h0M411.8 293.5h0M420.2 287.6h0M462.4 279.4h0M460.1 276.3h0M400.5 292.2h0M479.0 288.6h0M475.0 300.2h0M487.8 291.1h0M416.6 257.9h0M465.9 283.8h0M448.6 286.2h0M463.5 289.5h0M483.6 296.6h0M404.8 296.6h0M477.2 285.6h0M479.0 287.8h0M457.4 270.3h0M433.6 296.8h0M447.1 279.0h0M409.8 268.0h0M467.4 302.2h0M448.1 277.0h0M450.4 297.8h0M463.8 279.5h0M406.5 266.5h0M402.1 279.6h0M408.0 277.4h0M404.7 286.1h0M473.2 282.3h0M409.1 269.8h0M431.2 283.4h0M458.5 285.1h0M420.2 277.4h0M484.5 278.3h0M484.7 300.6h0M432.6 281.3h0M451.6 289.5h0M471.5 280.3h0M491.7 276.9h0M462.1 281.2h0M438.2 270.6h0M401.8 288.5h0M457.0 287.4h0M458.8 292.8h0M462.2 283.5h0M428.5 280.7h0M479.3 287.1h0M452.1 294.3h0M431.6 282.5h0M418.8 284.8h0M400.9 274.0h0M464.1 286.7h0M425.5 270.8h0M478.5 283.2h0M426.1 298.2h0M424.6 282.8h0M471.3 297.7h0M431.5 273.0h0M492.1 273.3h0M449.5 283.4h0M487.1 281.9h0M408.2 293.1h0M402.1 300.0h0M399.7 284.4h0M480.8 287.8h0M440.8 296.2h0M466.2 283.5h0M445.5 280.0h0M490.2 280.3h0M474.0 270.9h0M441.1 275.1h0M413.3 283.7h0M431.9 280.8h0M432.5 276.4h0M429.6 291.1h0M464.3 272.2h0M476.8 277.0h0M476.0 287.1h0M414.7 286.3h0M412.2 256.4h0M459.9 276.2h0M466.2 275.8h0M471.3 269.1h0M483.6 276.7h0M427.4 279.5h0M403.8 273.3h0M430.6 290.0h0M426.3 274.9h0M407.2 293.9h0M460.8 280.1h0M444.2 277.6h0M455.2 297.7h0M480.1 269.2h0M450.5 293.6h0M481.9 276.0h0M474.4 289.7h0M445.8 279.9h0M454.8 289.4h0M440.2 263.9h0M432.3 272.4h0M466.0 268.6h0M453.0 276.2h0M430.6 275.3h0M458.1 282.3h0M446.5 284.9h0M407.3 274.3h0M467.4 282.9h0M442.7 283.8h0M486.2 298.2h0M483.2 315.8h0M407.5 274.3h0M420.9 285.1h0M462.5 280.8h0M415.0 281.7h0M475.5 294.3h0M460.2 292.0h0M488.5 292.6h0M428.8 284.0h0M461.7 286.2h0M453.1 273.0h0M461.0 293.7h0M488.2 304.4h0M428.9 275.1h0M417.8 284.7h0M473.5 285.8h0M410.7 261.4h0M448.1 269.5h0M485.9 280.3h0M477.8 276.4h0M462.0 282.7h0M399.7 270.4h0M491.5 291.6h0M438.5 288.5h0M423.2 285.2h0M403.7 265.1h0M410.1 265.8h0M402.0 284.8h0M448.9 272.3h0M431.6 283.0h0M423.5 271.1h0M474.9 287.6h0M404.7 270.8h0M435.5 282.8h0M473.3 287.2h0M476.0 311.5h0M463.8 282.5h0M445.4 287.8h0M411.4 292.4h0M433.0 266.5h0M465.8 287.6h0M471.0 301.0h0M453.9 303.8h0M483.1 310.9h0M449.4 288.4h0M477.9 272.6h0M483.7 300.2h0M412.2 282.9h0M410.2 296.6h0M492.4 317.3h0M423.7 277.5h0M438.1 279.0h0M435.7 269.5h0M477.9 270.0h0M399.6 269.7h0M442.2 287.5h0M439.3 294.1h0M406.2 289.1h0M437.9 297.9h0M480.6 269.5h0M402.5 281.0h0M419.5 279.4h0M453.6 281.3h0M447.3 266.2h0M468.9 289.4h0M428.0 270.4h0M408.3 276.9h0M430.6 282.7h0M476.1 302.3h0M436.8 273.4h0M433.1 288.3h0M471.1 288.6h0M451.4 280.8h0M409.5 278.9h0M431.6 271.2h0M484.2 291.5h0M400.8 277.6h0M469.1 281.7h0M424.8 280.7h0M467.8 277.9h0M411.9 282.3h0M458.5 272.4h0M479.1 291.4h0M403.6 292.5h0M489.2 286.1h0M406.9 268.8h0M399.7 283.7h0M475.3 290.4h0M444.3 285.5h0M401.2 277.6h0M458.4 285.0h0M443.9 279.5h0M493.1 301.7h0M491.1 272.2h0M481.1 279.8h0M445.3 290.3h0M474.9 272.1h0M466.5 279.9h0M421.5 267.2h0M467.7 294.8h0M423.7 265.9h0M435.4 281.3h0M404.7 298.2h0M409.5 272.9h0M443.2 285.0h0M476.9 294.0h0M472.4 286.4h0M411.2 297.6h0M447.2 277.2h0M424.7 282.9h0M415.4 282.7h0M430.2 268.4h0M460.8 283.3h0M485.9 291.5h0M406.1 288.2h0M423.4 281.3h0M467.7 274.4h0M442.8 287.6h0M432.3 290.9h0M473.2 276.1h0M400.0 278.5h0M488.0 285.9h0M421.5 263.9h0M477.8 295.9h0M476.5 282.9h0M476.9 301.0h0M454.8 285.9h0M457.7 278.0h0M402.2 268.9h0M436.0 293.3h0M455.4 275.6h0M421.6 273.5h0M461.0 284.7h0M448.2 264.4h0M459.6 283.5h0M478.7 293.0h0M427.2 277.2h0M455.3 300.2h0M402.3 265.0h0M472.7 275.5h0M474.5 288.3h0M461.7 278.0h0M462.0 278.8h0M449.0 266.6h0M426.4 286.6h0M472.7 296.3h0M409.0 298.3h0M451.1 285.6h0M407.0 293.9h0M467.4 285.7h0M443.2 278.5h0M456.2 287.3h0M412.4 288.6h0M435.0 270.8h0M458.9 285.3h0M437.4 279.7h0M465.2 275.2h0M405.1 291.4h0M429.5 289.7h0M407.0 261.2h0M466.8 285.5h0M432.9 291.0h0M467.7 286.4h0M468.5 289.4h0M401.4 290.4h0M455.0 286.9h0M473.4 284.7h0M484.9 285.5h0M405.4 274.5h0M405.7 295.3h0M437.6 295.5h0M467.9 276.9h0M407.3 283.6h0M493.3 274.9h0M464.1 281.1h0M399.7 291.9h0M467.3 279.2h0M436.3 291.0h0M412.8 277.6h0M459.1 272.3h0M464.4 267.1h0M455.0 283.8h0M419.8 274.2h0M413.4 277.3h0M403.1 272.1h0M412.1 303.2h0M429.7 284.8h0M427.5 278.5h0M403.9 275.1h0M477.5 291.7h0M413.8 272.6h0M404.7 269.3h0M415.8 279.6h0M437.4 283.9h0M455.3 286.4h0M404.8 278.1h0M410.7 269.1h0M400.6 265.4h0M433.3 285.8h0M493.6 294.5h0M471.1 291.6h0M478.4 275.9h0M484.7 283.4h0M416.9 277.6h0M457.6 279.0h0M435.0 278.2h0M429.9 282.4h0M468.8 293.7h0M449.1 288.4h0M455.1 282.1h0M421.3 277.1h0M487.4 289.0h0M458.4 287.2h0M455.8 270.8h0M468.9 288.5h0M484.6 283.4h0M412.8 282.9h0M420.7 288.4h0M490.7 299.6h0M460.2 288.4h0M439.7 259.1h0M403.0 317.5h0M426.5 316.4h0M472.2 314.2h0" stroke="#4cc476" stroke-width="2.60" stroke-linecap="round" fill="none" filter="url(#bl)"/>
<text transform="translate(386.6,253.00) scale(1,1.05)" class="yt">120</text>
<text transform="translate(386.6,275.18) scale(1,1.05)" class="yt">60</text>
<text transform="translate(386.6,297.36) scale(1,1.05)" class="yt">0</text>
<text transform="translate(386.6,319.54) scale(1,1.05)" class="yt">-60</text>
<text transform="translate(386.6,341.72) scale(1,1.05)" class="yt">-120</text>
<text transform="translate(386.6,363.90) scale(1,1.05)" class="yt">-180</text>
<text transform="translate(393.3,375.5) scale(1,1.05)" class="xt">0.8</text>
<text transform="translate(421.0,375.5) scale(1,1.05)" class="xt">1.2</text>
<text transform="translate(448.7,375.5) scale(1,1.05)" class="xt">1.6</text>
<text transform="translate(476.3,375.5) scale(1,1.05)" class="xt">2</text>
<text transform="translate(504.0,375.5) scale(1,1.05)" class="xt">2.4</text>
<path d="M393.3 249.9V360.8M393.3 360.8H504.0M388.3 249.9H393.3M388.3 272.1H393.3M388.3 294.3H393.3M388.3 316.4H393.3M388.3 338.6H393.3M388.3 360.8H393.3M393.3 360.8V365.8M421.0 360.8V365.8M448.7 360.8V365.8M476.3 360.8V365.8M504.0 360.8V365.8" stroke="#231f20" stroke-width="1" fill="none"/>
<text transform="translate(448.6,387.9) scale(1,1.05)" class="xt">ASR (120 dB)</text>
<text x="531.6" y="241.3" class="pl">h</text>
<text transform="translate(571.0,244.5) scale(1,1.05)" class="rh">Rho = -0.1035, p = 0.0564</text>
<text transform="translate(542.9,305.4) rotate(-90) scale(1,1.05)" class="yl">PPI (78-120 dB)</text>
<line x1="571.9" y1="287.0" x2="682.2" y2="292.4" stroke="#111" stroke-width="1.15"/>
<path d="M578.9 294.3h0M595.7 290.7h0M583.2 295.5h0M614.5 287.3h0M593.1 278.2h0M601.7 280.9h0M580.4 284.3h0M584.8 279.1h0M580.6 301.4h0M604.3 274.3h0M584.8 287.9h0M593.5 296.9h0M586.7 290.4h0M593.8 292.2h0M583.5 286.8h0M583.2 285.2h0M579.9 305.9h0M591.7 278.5h0M599.2 275.8h0M578.0 295.8h0M609.2 278.3h0M581.8 277.8h0M586.8 280.0h0M580.6 274.8h0M594.1 297.4h0M576.2 281.7h0M576.8 295.7h0M597.0 271.1h0M594.9 294.4h0M588.1 296.7h0M585.8 279.1h0M581.7 282.8h0M584.9 287.4h0M596.5 286.6h0M585.7 282.9h0M581.1 274.1h0M580.3 293.2h0M584.7 291.8h0M600.7 291.5h0M598.3 288.1h0M593.4 287.5h0M584.8 297.4h0M583.3 285.3h0M588.7 297.0h0M600.5 289.7h0M578.0 289.6h0M579.3 289.5h0M591.7 276.8h0M578.4 274.6h0M606.2 280.6h0M609.1 277.5h0M584.8 289.8h0M600.2 278.0h0M579.8 288.0h0M578.9 285.8h0M591.5 285.6h0M596.7 297.0h0M592.9 292.0h0M580.1 288.8h0M592.1 284.9h0M587.2 288.5h0M598.3 293.5h0M578.4 296.8h0M586.3 287.5h0M576.7 297.1h0M609.3 295.1h0M576.4 288.4h0M612.9 286.5h0M584.6 293.9h0M593.6 300.4h0M597.9 285.6h0M600.5 282.0h0M595.8 290.5h0M587.9 290.4h0M581.4 305.8h0M587.8 280.8h0M589.7 295.7h0M598.7 282.6h0M596.2 291.8h0M603.1 288.6h0M589.8 289.0h0M592.0 300.7h0M591.4 268.2h0M584.1 299.6h0M583.9 286.8h0M577.9 294.1h0M578.1 289.5h0M592.7 277.7h0M576.7 302.6h0M591.7 288.6h0M577.7 283.7h0M580.1 286.7h0M589.3 284.7h0M588.4 293.2h0M600.1 298.8h0M593.4 297.0h0M583.0 290.8h0M586.7 282.0h0M601.0 287.1h0M589.7 275.8h0M606.1 286.9h0M581.1 286.1h0M581.4 286.0h0M578.3 301.4h0M605.0 283.8h0M584.1 296.1h0M582.8 290.5h0M578.8 269.2h0M585.8 297.0h0M592.7 286.7h0M590.6 285.5h0M577.3 286.6h0M576.4 287.6h0M606.9 291.2h0M587.0 272.6h0M581.1 303.3h0M589.5 295.2h0M580.3 275.9h0M593.8 283.7h0M587.3 293.4h0M584.4 294.5h0M593.5 289.4h0M586.2 268.3h0M579.9 283.7h0M581.1 295.7h0M588.1 285.8h0M585.6 292.4h0M601.8 277.5h0M592.4 285.5h0M594.1 278.6h0M578.1 286.3h0M586.5 272.2h0M578.0 284.3h0M583.1 285.4h0M597.4 294.7h0M582.5 290.9h0M584.8 284.6h0M592.0 291.2h0M584.5 268.9h0M583.5 287.7h0M586.5 293.4h0M591.5 280.4h0M587.4 291.6h0M593.4 284.7h0M599.1 288.2h0M600.3 292.5h0M597.8 277.9h0M585.4 286.9h0M588.4 279.5h0M589.5 290.1h0M612.9 296.4h0M593.5 296.5h0M590.7 291.4h0M593.3 288.9h0M611.0 287.3h0M594.5 283.9h0M580.6 297.4h0M578.8 285.8h0M580.4 297.2h0M578.7 293.1h0M585.2 268.6h0M591.6 278.3h0M581.4 290.4h0M591.9 274.6h0M597.6 277.7h0M594.9 281.3h0M576.2 275.7h0M582.5 289.5h0M595.4 288.5h0M580.3 294.4h0M584.9 283.1h0M578.3 297.6h0M603.1 291.0h0M587.1 284.2h0M587.5 291.4h0M586.7 285.0h0M580.2 273.2h0M586.7 295.0h0M596.7 277.8h0M592.5 292.6h0M586.2 294.7h0M590.7 286.0h0M599.5 280.5h0M604.6 292.3h0M591.6 292.9h0M581.2 291.1h0M582.4 293.2h0M587.0 286.2h0M603.2 292.4h0M583.4 289.6h0M585.4 284.9h0M576.3 291.0h0M576.2 278.3h0M599.0 292.3h0M581.5 293.6h0M581.2 271.6h0M579.7 275.7h0M590.4 287.1h0M577.2 280.9h0M588.0 285.1h0M580.0 291.6h0M589.4 282.6h0M575.6 285.1h0M578.4 277.4h0M596.3 300.6h0M591.5 281.7h0M580.5 286.3h0M590.2 292.7h0M576.8 291.1h0M592.3 290.5h0M590.9 297.3h0M581.1 292.1h0M605.8 282.5h0M575.9 299.9h0M601.8 290.1h0M582.0 306.0h0M577.9 292.2h0M581.8 284.6h0M597.6 288.0h0M612.0 287.3h0M599.6 295.3h0M589.7 283.4h0M588.3 294.3h0M595.2 281.2h0M583.3 286.0h0M582.8 290.6h0M594.4 277.0h0M599.1 290.3h0M575.9 279.3h0M590.5 286.8h0M585.4 287.6h0M590.6 280.3h0M598.4 284.6h0M608.5 287.7h0M575.7 288.6h0M594.8 286.1h0M587.6 287.0h0M585.7 290.1h0M586.6 295.4h0M577.1 308.5h0M586.3 288.4h0M581.2 289.5h0M578.5 277.9h0M602.4 284.6h0M587.8 279.1h0M593.1 275.1h0M582.3 288.4h0M583.0 294.1h0M583.0 281.3h0M590.0 292.0h0M596.1 289.4h0M578.4 276.1h0M593.4 283.6h0M575.9 278.7h0M587.8 297.7h0M582.8 287.3h0M599.0 279.9h0M612.9 295.5h0M590.2 286.1h0M607.3 285.0h0M584.5 305.3h0M596.2 276.3h0M593.2 292.7h0M593.1 288.6h0M590.7 275.3h0M580.2 301.7h0M599.2 284.4h0M588.8 290.9h0M583.9 287.2h0M591.6 293.6h0M603.5 278.5h0M591.8 295.7h0M588.2 284.9h0M578.0 283.2h0M601.4 288.2h0M584.8 289.7h0M590.0 289.5h0M591.1 280.1h0M575.6 283.9h0M604.3 288.1h0M598.8 295.1h0M593.4 286.4h0M584.4 283.5h0M590.8 287.8h0M577.0 276.0h0M611.9 299.5h0M602.7 270.9h0M604.5 288.8h0M587.7 296.1h0M597.1 299.8h0M580.6 280.8h0M595.7 283.5h0M590.1 289.2h0M599.7 287.9h0M578.6 286.2h0M600.7 290.5h0M597.5 279.5h0M580.9 282.7h0M590.8 288.5h0M576.8 300.8h0M585.2 277.1h0M584.0 291.2h0M593.0 295.0h0M600.5 278.8h0M579.0 283.6h0M577.9 303.7h0M595.0 299.4h0M599.2 290.3h0M595.5 296.5h0M585.6 288.7h0M588.0 268.6h0M602.4 268.2h0M599.7 287.8h0M609.0 282.5h0M577.0 280.4h0M582.7 288.5h0M616.8 272.4h0M620.8 278.0h0M625.8 285.8h0M630.3 283.5h0M623.2 289.1h0M622.9 291.5h0M624.9 292.8h0M627.5 292.8h0M631.4 297.2h0M635.6 290.2h0M638.0 285.8h0M637.5 288.3h0M638.4 289.1h0M637.8 287.6h0M641.5 292.8h0M642.6 296.5h0M644.3 283.2h0M645.8 294.6h0M648.9 290.7h0M619.9 298.3h0M616.2 296.8h0M674.8 287.6h0M675.1 288.9h0M675.1 291.9h0" stroke="#f3960f" stroke-width="2.60" stroke-linecap="round" fill="none" filter="url(#bl)"/>
<text transform="translate(565.2,253.00) scale(1,1.05)" class="yt">120</text>
<text transform="translate(565.2,275.18) scale(1,1.05)" class="yt">60</text>
<text transform="translate(565.2,297.36) scale(1,1.05)" class="yt">0</text>
<text transform="translate(565.2,319.54) scale(1,1.05)" class="yt">-60</text>
<text transform="translate(565.2,341.72) scale(1,1.05)" class="yt">-120</text>
<text transform="translate(565.2,363.90) scale(1,1.05)" class="yt">-180</text>
<text transform="translate(571.9,375.5) scale(1,1.05)" class="xt">2</text>
<text transform="translate(594.1,375.5) scale(1,1.05)" class="xt">3.2</text>
<text transform="translate(616.2,375.5) scale(1,1.05)" class="xt">4.4</text>
<text transform="translate(638.4,375.5) scale(1,1.05)" class="xt">5.6</text>
<text transform="translate(660.5,375.5) scale(1,1.05)" class="xt">6.8</text>
<text transform="translate(682.7,375.5) scale(1,1.05)" class="xt">8</text>
<path d="M571.9 249.9V360.8M571.9 360.8H682.7M566.9 249.9H571.9M566.9 272.1H571.9M566.9 294.3H571.9M566.9 316.4H571.9M566.9 338.6H571.9M566.9 360.8H571.9M571.9 360.8V365.8M594.1 360.8V365.8M616.2 360.8V365.8M638.4 360.8V365.8M660.5 360.8V365.8M682.7 360.8V365.8" stroke="#231f20" stroke-width="1" fill="none"/>
<text transform="translate(627.3,387.9) scale(1,1.05)" class="xt">ASR (120 dB)</text>
</svg>
</body></html>
